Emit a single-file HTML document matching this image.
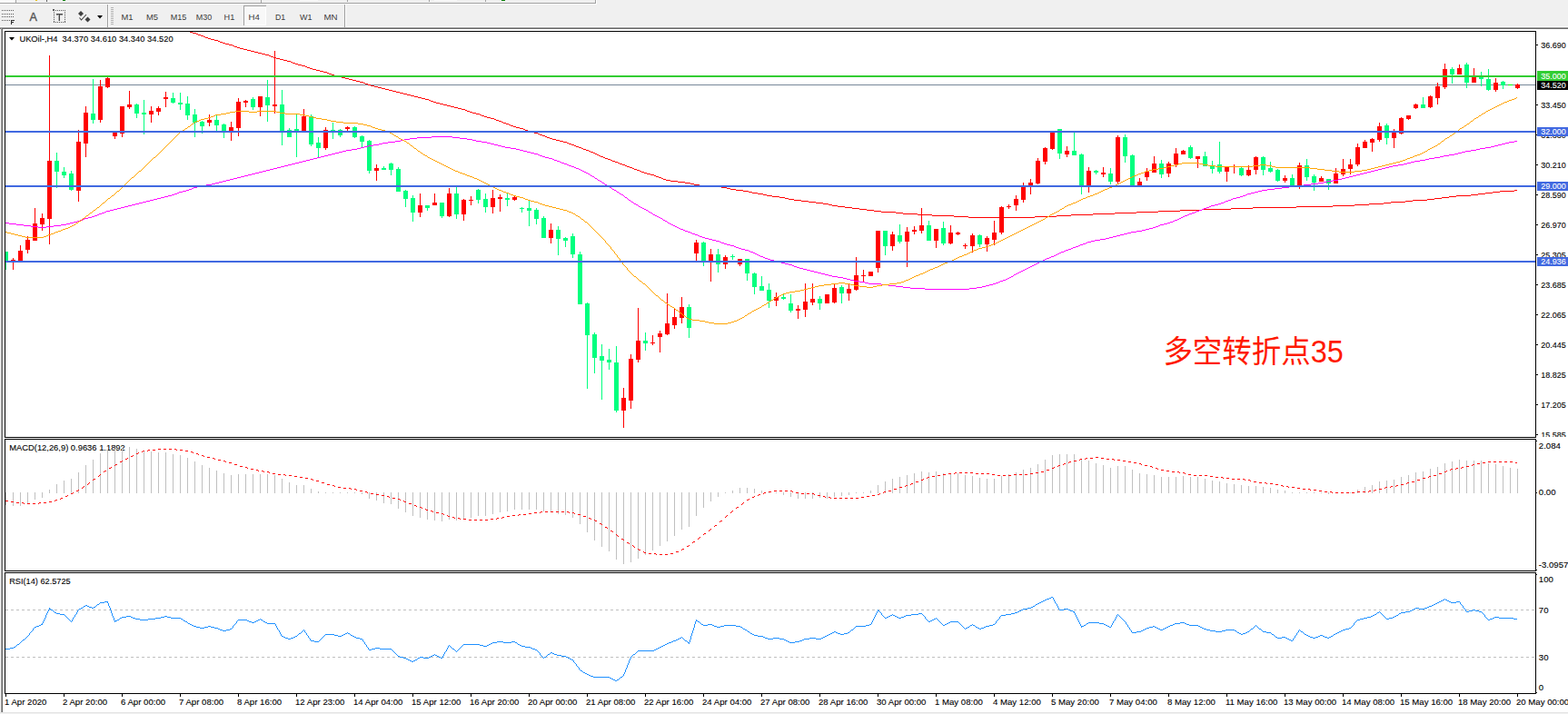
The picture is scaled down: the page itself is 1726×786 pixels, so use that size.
<!DOCTYPE html><html><head><meta charset="utf-8"><title>UKOil H4</title>
<style>html,body{margin:0;padding:0;background:#f0f0f0;overflow:hidden}svg{display:block}text{font-family:"Liberation Sans",sans-serif;font-size:9.6px;fill:#000;stroke:#000;stroke-width:0.1px}.tb{font-size:9.6px;fill:#3c3c3c;stroke:none}.w{fill:#fff;stroke:#fff}</style></head><body>
<svg width="1726" height="786" viewBox="0 0 1726 786">
<rect x="0" y="0" width="1726" height="786" fill="#f0f0f0"/>
<g shape-rendering="crispEdges">
<rect x="0" y="0" width="18" height="3" fill="#fafafa"/>
<rect x="0" y="3" width="656" height="1" fill="#a0a0a0"/>
<rect x="655" y="0" width="1" height="4" fill="#a0a0a0"/>
<rect x="656" y="0" width="1" height="5" fill="#ffffff"/>
<rect x="0" y="4" width="656" height="1" fill="#ffffff"/>
<rect x="39" y="0" width="2" height="1" fill="#e8c000"/>
<rect x="51" y="0" width="1" height="2" fill="#606060"/>
<rect x="69" y="0" width="3" height="1" fill="#008000"/>
<rect x="17" y="0" width="1" height="3" fill="#a0a0a0"/>
<rect x="0" y="29" width="1726" height="1" fill="#fbfbfb"/>
<rect x="0" y="30" width="1726" height="1" fill="#a0a0a0"/>
<rect x="0" y="31" width="1726" height="1" fill="#696969"/>
<rect x="0" y="32" width="1726" height="754" fill="#ffffff"/>
<rect x="0" y="32" width="1" height="754" fill="#f4f4f4"/>
<rect x="1" y="31" width="1" height="754" fill="#a0a0a0"/>
<rect x="2" y="31" width="1" height="753" fill="#696969"/>
<rect x="0" y="784" width="1726" height="1" fill="#e3e3e3"/>
<rect x="3" y="784" width="1726" height="1" fill="#e3e3e3"/>
<rect x="0" y="785" width="1726" height="1" fill="#f0f0f0"/>
<rect x="118" y="5" width="1" height="25" fill="#a0a0a0"/>
<rect x="119" y="5" width="1" height="25" fill="#ffffff"/>
<rect x="379" y="5" width="1" height="25" fill="#a0a0a0"/>
<rect x="380" y="5" width="1" height="25" fill="#ffffff"/>
<rect x="122" y="8" width="3" height="1" fill="#b4b4b4"/>
<rect x="122" y="10" width="3" height="1" fill="#b4b4b4"/>
<rect x="122" y="12" width="3" height="1" fill="#b4b4b4"/>
<rect x="122" y="14" width="3" height="1" fill="#b4b4b4"/>
<rect x="122" y="16" width="3" height="1" fill="#b4b4b4"/>
<rect x="122" y="18" width="3" height="1" fill="#b4b4b4"/>
<rect x="122" y="20" width="3" height="1" fill="#b4b4b4"/>
<rect x="122" y="22" width="3" height="1" fill="#b4b4b4"/>
<rect x="122" y="24" width="3" height="1" fill="#b4b4b4"/>
<rect x="122" y="26" width="3" height="1" fill="#b4b4b4"/>
<rect x="268" y="6" width="25" height="22" fill="#f8f8f8"/>
<rect x="268" y="6" width="25" height="22" fill="#f8f8f8"/>
<rect x="268" y="6" width="25" height="1" fill="#a0a0a0"/>
<rect x="268" y="6" width="1" height="22" fill="#a0a0a0"/>
<rect x="292" y="7" width="1" height="21" fill="#ffffff"/>
<rect x="269" y="27" width="24" height="1" fill="#ffffff"/>
<rect x="2" y="11" width="1" height="1" fill="#5a5a5a"/>
<rect x="4" y="11" width="1" height="1" fill="#5a5a5a"/>
<rect x="6" y="11" width="1" height="1" fill="#5a5a5a"/>
<rect x="8" y="11" width="1" height="1" fill="#5a5a5a"/>
<rect x="10" y="11" width="1" height="1" fill="#5a5a5a"/>
<rect x="12" y="11" width="1" height="1" fill="#5a5a5a"/>
<rect x="14" y="11" width="1" height="1" fill="#5a5a5a"/>
<rect x="2" y="15" width="1" height="1" fill="#5a5a5a"/>
<rect x="4" y="15" width="1" height="1" fill="#5a5a5a"/>
<rect x="6" y="15" width="1" height="1" fill="#5a5a5a"/>
<rect x="8" y="15" width="1" height="1" fill="#5a5a5a"/>
<rect x="10" y="15" width="1" height="1" fill="#5a5a5a"/>
<rect x="12" y="15" width="1" height="1" fill="#5a5a5a"/>
<rect x="14" y="15" width="1" height="1" fill="#5a5a5a"/>
<rect x="2" y="18" width="1" height="1" fill="#5a5a5a"/>
<rect x="4" y="18" width="1" height="1" fill="#5a5a5a"/>
<rect x="6" y="18" width="1" height="1" fill="#5a5a5a"/>
<rect x="8" y="18" width="1" height="1" fill="#5a5a5a"/>
<rect x="10" y="18" width="1" height="1" fill="#5a5a5a"/>
<rect x="12" y="18" width="1" height="1" fill="#5a5a5a"/>
<rect x="14" y="18" width="1" height="1" fill="#5a5a5a"/>
<rect x="2" y="22" width="1" height="1" fill="#5a5a5a"/>
<rect x="4" y="22" width="1" height="1" fill="#5a5a5a"/>
<rect x="6" y="22" width="1" height="1" fill="#5a5a5a"/>
<rect x="8" y="22" width="1" height="1" fill="#5a5a5a"/>
<rect x="10" y="22" width="1" height="1" fill="#5a5a5a"/>
<rect x="12" y="22" width="1" height="5" fill="#303030"/>
<rect x="12" y="22" width="4" height="1" fill="#303030"/>
<rect x="12" y="24" width="3" height="1" fill="#303030"/>
<rect x="59" y="11" width="1" height="1" fill="#5a5a5a"/>
<rect x="59" y="24" width="1" height="1" fill="#5a5a5a"/>
<rect x="61" y="11" width="1" height="1" fill="#5a5a5a"/>
<rect x="61" y="24" width="1" height="1" fill="#5a5a5a"/>
<rect x="63" y="11" width="1" height="1" fill="#5a5a5a"/>
<rect x="63" y="24" width="1" height="1" fill="#5a5a5a"/>
<rect x="65" y="11" width="1" height="1" fill="#5a5a5a"/>
<rect x="65" y="24" width="1" height="1" fill="#5a5a5a"/>
<rect x="67" y="11" width="1" height="1" fill="#5a5a5a"/>
<rect x="67" y="24" width="1" height="1" fill="#5a5a5a"/>
<rect x="69" y="11" width="1" height="1" fill="#5a5a5a"/>
<rect x="69" y="24" width="1" height="1" fill="#5a5a5a"/>
<rect x="71" y="11" width="1" height="1" fill="#5a5a5a"/>
<rect x="71" y="24" width="1" height="1" fill="#5a5a5a"/>
<rect x="59" y="11" width="1" height="1" fill="#5a5a5a"/>
<rect x="71" y="11" width="1" height="1" fill="#5a5a5a"/>
<rect x="59" y="13" width="1" height="1" fill="#5a5a5a"/>
<rect x="71" y="13" width="1" height="1" fill="#5a5a5a"/>
<rect x="59" y="15" width="1" height="1" fill="#5a5a5a"/>
<rect x="71" y="15" width="1" height="1" fill="#5a5a5a"/>
<rect x="59" y="17" width="1" height="1" fill="#5a5a5a"/>
<rect x="71" y="17" width="1" height="1" fill="#5a5a5a"/>
<rect x="59" y="19" width="1" height="1" fill="#5a5a5a"/>
<rect x="71" y="19" width="1" height="1" fill="#5a5a5a"/>
<rect x="59" y="21" width="1" height="1" fill="#5a5a5a"/>
<rect x="71" y="21" width="1" height="1" fill="#5a5a5a"/>
<rect x="59" y="23" width="1" height="1" fill="#5a5a5a"/>
<rect x="71" y="23" width="1" height="1" fill="#5a5a5a"/>
<rect x="58" y="10" width="2" height="2" fill="#5a5a5a"/>
<rect x="62" y="15" width="7" height="1" fill="#4a4a4a"/>
<rect x="62" y="16" width="7" height="1" fill="#9a9a9a"/>
<rect x="65" y="15" width="1" height="8" fill="#4a4a4a"/>
<rect x="64" y="16" width="1" height="7" fill="#b0b0b0"/>
<rect x="287" y="0" width="1" height="3" fill="#a0a0a0"/>
<rect x="330" y="0" width="20" height="1" fill="#fafafa"/>
<rect x="382" y="0" width="1" height="2" fill="#a0a0a0"/>
<rect x="472" y="0" width="1" height="2" fill="#a0a0a0"/>
<rect x="534" y="0" width="1" height="2" fill="#a0a0a0"/>
<rect x="478" y="0" width="25" height="1" fill="#fafafa"/>
<rect x="552" y="0" width="4" height="1" fill="#008000"/>
</g>
<text x="32.6" y="23" style="font-size:12.5px;fill:#555;stroke:#555;stroke-width:0.35">A</text>
<g fill="#404040"><path d="M89 12l3 3-3 3-3-3z"/><path d="M96.500 18.500l3 3-3 3-3-3z"/><path d="M87.500 19.500l2 2.500 5.500-6" fill="none" stroke="#404040" stroke-width="1.1"/><path d="M107 17h6l-3 3.500z" fill="#000"/></g>
<text class="tb" x="133.4" y="22" textLength="13.0" lengthAdjust="spacingAndGlyphs">M1</text>
<text class="tb" x="161" y="22" textLength="13.0" lengthAdjust="spacingAndGlyphs">M5</text>
<text class="tb" x="187.7" y="22" textLength="17.6" lengthAdjust="spacingAndGlyphs">M15</text>
<text class="tb" x="215.8" y="22" textLength="17.5" lengthAdjust="spacingAndGlyphs">M30</text>
<text class="tb" x="246.6" y="22" textLength="11.7" lengthAdjust="spacingAndGlyphs">H1</text>
<text class="tb" x="273.6" y="22" textLength="12.3" lengthAdjust="spacingAndGlyphs">H4</text>
<text class="tb" x="302.9" y="22" textLength="11.2" lengthAdjust="spacingAndGlyphs">D1</text>
<text class="tb" x="329.9" y="22" textLength="13.5" lengthAdjust="spacingAndGlyphs">W1</text>
<text class="tb" x="356.4" y="22" textLength="15.1" lengthAdjust="spacingAndGlyphs">MN</text>
<g shape-rendering="crispEdges">
<rect x="5" y="34" width="1686" height="1" fill="#000"/>
<rect x="5" y="481" width="1686" height="1" fill="#000"/>
<rect x="5" y="34" width="1" height="448" fill="#000"/>
<rect x="1690" y="34" width="1" height="448" fill="#000"/>
<rect x="5" y="483" width="1686" height="1" fill="#000"/>
<rect x="5" y="628" width="1686" height="1" fill="#000"/>
<rect x="5" y="483" width="1" height="146" fill="#000"/>
<rect x="1690" y="483" width="1" height="146" fill="#000"/>
<rect x="5" y="630" width="1686" height="1" fill="#000"/>
<rect x="5" y="763" width="1686" height="1" fill="#000"/>
<rect x="5" y="630" width="1" height="134" fill="#000"/>
<rect x="1690" y="630" width="1" height="134" fill="#000"/>
</g>
<defs><clipPath id="cm"><rect x="6" y="35" width="1684" height="446"/></clipPath></defs>
<g clip-path="url(#cm)" shape-rendering="crispEdges">
<rect x="6" y="93" width="1684" height="1" fill="#778899"/>
<rect x="6" y="277" width="1" height="20" fill="#00ff7f"/>
<rect x="4" y="277" width="5" height="12" fill="#00ff7f"/>
<rect x="14" y="284" width="1" height="13" fill="#ff0000"/>
<rect x="12" y="286" width="5" height="3" fill="#ff0000"/>
<rect x="22" y="270" width="1" height="18" fill="#ff0000"/>
<rect x="20" y="276" width="5" height="12" fill="#ff0000"/>
<rect x="30" y="260" width="1" height="19" fill="#ff0000"/>
<rect x="28" y="264" width="5" height="11" fill="#ff0000"/>
<rect x="38" y="229" width="1" height="36" fill="#ff0000"/>
<rect x="36" y="246" width="5" height="19" fill="#ff0000"/>
<rect x="46" y="235" width="1" height="19" fill="#ff0000"/>
<rect x="44" y="240" width="5" height="7" fill="#ff0000"/>
<rect x="54" y="61" width="1" height="208" fill="#ff0000"/>
<rect x="52" y="177" width="5" height="64" fill="#ff0000"/>
<rect x="62" y="168" width="1" height="39" fill="#00ff7f"/>
<rect x="60" y="177" width="5" height="12" fill="#00ff7f"/>
<rect x="70" y="184" width="1" height="12" fill="#00ff7f"/>
<rect x="68" y="189" width="5" height="4" fill="#00ff7f"/>
<rect x="78" y="188" width="1" height="22" fill="#00ff7f"/>
<rect x="76" y="191" width="5" height="18" fill="#00ff7f"/>
<rect x="86" y="143" width="1" height="79" fill="#ff0000"/>
<rect x="84" y="156" width="5" height="54" fill="#ff0000"/>
<rect x="94" y="117" width="1" height="56" fill="#ff0000"/>
<rect x="92" y="124" width="5" height="34" fill="#ff0000"/>
<rect x="102" y="87" width="1" height="49" fill="#00ff7f"/>
<rect x="100" y="125" width="5" height="7" fill="#00ff7f"/>
<rect x="110" y="88" width="1" height="47" fill="#ff0000"/>
<rect x="108" y="95" width="5" height="37" fill="#ff0000"/>
<rect x="118" y="85" width="1" height="12" fill="#ff0000"/>
<rect x="116" y="86" width="5" height="10" fill="#ff0000"/>
<rect x="126" y="146" width="1" height="7" fill="#ff0000"/>
<rect x="124" y="146" width="5" height="4" fill="#ff0000"/>
<rect x="134" y="117" width="1" height="34" fill="#ff0000"/>
<rect x="132" y="117" width="5" height="30" fill="#ff0000"/>
<rect x="142" y="100" width="1" height="20" fill="#ff0000"/>
<rect x="140" y="115" width="5" height="3" fill="#ff0000"/>
<rect x="150" y="114" width="1" height="16" fill="#00ff7f"/>
<rect x="148" y="115" width="5" height="10" fill="#00ff7f"/>
<rect x="158" y="110" width="1" height="38" fill="#00ff7f"/>
<rect x="156" y="124" width="5" height="2" fill="#00ff7f"/>
<rect x="166" y="117" width="1" height="18" fill="#ff0000"/>
<rect x="164" y="122" width="5" height="4" fill="#ff0000"/>
<rect x="174" y="117" width="1" height="10" fill="#ff0000"/>
<rect x="172" y="119" width="5" height="4" fill="#ff0000"/>
<rect x="182" y="101" width="1" height="17" fill="#ff0000"/>
<rect x="180" y="107" width="5" height="2" fill="#ff0000"/>
<rect x="190" y="102" width="1" height="12" fill="#00ff7f"/>
<rect x="188" y="108" width="5" height="5" fill="#00ff7f"/>
<rect x="198" y="102" width="1" height="19" fill="#00ff7f"/>
<rect x="196" y="113" width="5" height="2" fill="#00ff7f"/>
<rect x="206" y="106" width="1" height="26" fill="#00ff7f"/>
<rect x="204" y="114" width="5" height="13" fill="#00ff7f"/>
<rect x="214" y="120" width="1" height="31" fill="#00ff7f"/>
<rect x="212" y="126" width="5" height="9" fill="#00ff7f"/>
<rect x="222" y="133" width="1" height="14" fill="#00ff7f"/>
<rect x="220" y="134" width="5" height="5" fill="#00ff7f"/>
<rect x="230" y="126" width="1" height="13" fill="#ff0000"/>
<rect x="228" y="132" width="5" height="3" fill="#ff0000"/>
<rect x="238" y="126" width="1" height="19" fill="#00ff7f"/>
<rect x="236" y="132" width="5" height="6" fill="#00ff7f"/>
<rect x="246" y="136" width="1" height="16" fill="#00ff7f"/>
<rect x="244" y="137" width="5" height="8" fill="#00ff7f"/>
<rect x="254" y="134" width="1" height="21" fill="#ff0000"/>
<rect x="252" y="140" width="5" height="5" fill="#ff0000"/>
<rect x="262" y="108" width="1" height="42" fill="#ff0000"/>
<rect x="260" y="112" width="5" height="29" fill="#ff0000"/>
<rect x="270" y="110" width="1" height="8" fill="#ff0000"/>
<rect x="268" y="111" width="5" height="2" fill="#ff0000"/>
<rect x="278" y="107" width="1" height="14" fill="#00ff7f"/>
<rect x="276" y="109" width="5" height="9" fill="#00ff7f"/>
<rect x="286" y="106" width="1" height="22" fill="#ff0000"/>
<rect x="284" y="106" width="5" height="12" fill="#ff0000"/>
<rect x="294" y="88" width="1" height="46" fill="#00ff7f"/>
<rect x="292" y="107" width="5" height="9" fill="#00ff7f"/>
<rect x="302" y="56" width="1" height="69" fill="#ff0000"/>
<rect x="300" y="115" width="5" height="2" fill="#ff0000"/>
<rect x="310" y="99" width="1" height="61" fill="#00ff7f"/>
<rect x="308" y="115" width="5" height="30" fill="#00ff7f"/>
<rect x="318" y="141" width="1" height="10" fill="#00ff7f"/>
<rect x="316" y="143" width="5" height="8" fill="#00ff7f"/>
<rect x="326" y="125" width="1" height="48" fill="#00ff7f"/>
<rect x="324" y="142" width="5" height="3" fill="#00ff7f"/>
<rect x="334" y="120" width="1" height="25" fill="#ff0000"/>
<rect x="332" y="128" width="5" height="17" fill="#ff0000"/>
<rect x="342" y="126" width="1" height="35" fill="#00ff7f"/>
<rect x="340" y="128" width="5" height="31" fill="#00ff7f"/>
<rect x="350" y="151" width="1" height="22" fill="#00ff7f"/>
<rect x="348" y="157" width="5" height="6" fill="#00ff7f"/>
<rect x="358" y="140" width="1" height="25" fill="#ff0000"/>
<rect x="356" y="143" width="5" height="20" fill="#ff0000"/>
<rect x="366" y="135" width="1" height="18" fill="#00ff7f"/>
<rect x="364" y="143" width="5" height="3" fill="#00ff7f"/>
<rect x="374" y="142" width="1" height="9" fill="#00ff7f"/>
<rect x="372" y="143" width="5" height="6" fill="#00ff7f"/>
<rect x="382" y="139" width="1" height="5" fill="#ff0000"/>
<rect x="380" y="140" width="5" height="2" fill="#ff0000"/>
<rect x="390" y="139" width="1" height="13" fill="#00ff7f"/>
<rect x="388" y="140" width="5" height="11" fill="#00ff7f"/>
<rect x="398" y="149" width="1" height="13" fill="#00ff7f"/>
<rect x="396" y="150" width="5" height="6" fill="#00ff7f"/>
<rect x="406" y="154" width="1" height="37" fill="#00ff7f"/>
<rect x="404" y="155" width="5" height="33" fill="#00ff7f"/>
<rect x="414" y="181" width="1" height="18" fill="#ff0000"/>
<rect x="412" y="185" width="5" height="3" fill="#ff0000"/>
<rect x="422" y="183" width="1" height="4" fill="#00ff7f"/>
<rect x="420" y="185" width="5" height="2" fill="#00ff7f"/>
<rect x="430" y="179" width="1" height="14" fill="#00ff7f"/>
<rect x="428" y="180" width="5" height="7" fill="#00ff7f"/>
<rect x="438" y="184" width="1" height="27" fill="#00ff7f"/>
<rect x="436" y="186" width="5" height="25" fill="#00ff7f"/>
<rect x="446" y="209" width="1" height="19" fill="#00ff7f"/>
<rect x="444" y="210" width="5" height="9" fill="#00ff7f"/>
<rect x="454" y="215" width="1" height="29" fill="#00ff7f"/>
<rect x="452" y="218" width="5" height="16" fill="#00ff7f"/>
<rect x="462" y="213" width="1" height="26" fill="#ff0000"/>
<rect x="460" y="226" width="5" height="8" fill="#ff0000"/>
<rect x="470" y="226" width="1" height="6" fill="#00ff7f"/>
<rect x="468" y="226" width="5" height="3" fill="#00ff7f"/>
<rect x="478" y="213" width="1" height="13" fill="#ff0000"/>
<rect x="476" y="223" width="5" height="3" fill="#ff0000"/>
<rect x="486" y="223" width="1" height="17" fill="#00ff7f"/>
<rect x="484" y="223" width="5" height="15" fill="#00ff7f"/>
<rect x="494" y="207" width="1" height="32" fill="#ff0000"/>
<rect x="492" y="213" width="5" height="25" fill="#ff0000"/>
<rect x="502" y="206" width="1" height="35" fill="#00ff7f"/>
<rect x="500" y="213" width="5" height="23" fill="#00ff7f"/>
<rect x="510" y="219" width="1" height="24" fill="#ff0000"/>
<rect x="508" y="220" width="5" height="16" fill="#ff0000"/>
<rect x="518" y="216" width="1" height="10" fill="#ff0000"/>
<rect x="516" y="220" width="5" height="1" fill="#ff0000"/>
<rect x="526" y="208" width="1" height="16" fill="#00ff7f"/>
<rect x="524" y="209" width="5" height="11" fill="#00ff7f"/>
<rect x="534" y="213" width="1" height="21" fill="#00ff7f"/>
<rect x="532" y="219" width="5" height="9" fill="#00ff7f"/>
<rect x="542" y="209" width="1" height="26" fill="#ff0000"/>
<rect x="540" y="218" width="5" height="10" fill="#ff0000"/>
<rect x="550" y="214" width="1" height="19" fill="#ff0000"/>
<rect x="548" y="217" width="5" height="2" fill="#ff0000"/>
<rect x="558" y="213" width="1" height="14" fill="#00ff7f"/>
<rect x="556" y="218" width="5" height="2" fill="#00ff7f"/>
<rect x="566" y="216" width="1" height="5" fill="#ff0000"/>
<rect x="564" y="217" width="5" height="3" fill="#ff0000"/>
<rect x="574" y="228" width="1" height="6" fill="#00ff7f"/>
<rect x="572" y="229" width="5" height="1" fill="#00ff7f"/>
<rect x="582" y="220" width="1" height="29" fill="#00ff7f"/>
<rect x="580" y="229" width="5" height="3" fill="#00ff7f"/>
<rect x="590" y="229" width="1" height="18" fill="#00ff7f"/>
<rect x="588" y="231" width="5" height="10" fill="#00ff7f"/>
<rect x="598" y="238" width="1" height="24" fill="#00ff7f"/>
<rect x="596" y="240" width="5" height="22" fill="#00ff7f"/>
<rect x="606" y="246" width="1" height="22" fill="#ff0000"/>
<rect x="604" y="253" width="5" height="9" fill="#ff0000"/>
<rect x="614" y="249" width="1" height="32" fill="#00ff7f"/>
<rect x="612" y="253" width="5" height="10" fill="#00ff7f"/>
<rect x="622" y="261" width="1" height="11" fill="#00ff7f"/>
<rect x="620" y="262" width="5" height="3" fill="#00ff7f"/>
<rect x="630" y="257" width="1" height="27" fill="#00ff7f"/>
<rect x="628" y="260" width="5" height="20" fill="#00ff7f"/>
<rect x="638" y="277" width="1" height="58" fill="#00ff7f"/>
<rect x="636" y="280" width="5" height="55" fill="#00ff7f"/>
<rect x="646" y="333" width="1" height="95" fill="#00ff7f"/>
<rect x="644" y="334" width="5" height="35" fill="#00ff7f"/>
<rect x="654" y="366" width="1" height="45" fill="#00ff7f"/>
<rect x="652" y="368" width="5" height="26" fill="#00ff7f"/>
<rect x="662" y="379" width="1" height="61" fill="#00ff7f"/>
<rect x="660" y="392" width="5" height="5" fill="#00ff7f"/>
<rect x="670" y="384" width="1" height="23" fill="#00ff7f"/>
<rect x="668" y="396" width="5" height="3" fill="#00ff7f"/>
<rect x="678" y="381" width="1" height="73" fill="#00ff7f"/>
<rect x="676" y="399" width="5" height="53" fill="#00ff7f"/>
<rect x="686" y="427" width="1" height="44" fill="#ff0000"/>
<rect x="684" y="438" width="5" height="14" fill="#ff0000"/>
<rect x="694" y="390" width="1" height="60" fill="#ff0000"/>
<rect x="692" y="395" width="5" height="46" fill="#ff0000"/>
<rect x="702" y="339" width="1" height="60" fill="#ff0000"/>
<rect x="700" y="375" width="5" height="21" fill="#ff0000"/>
<rect x="710" y="366" width="1" height="20" fill="#00ff7f"/>
<rect x="708" y="375" width="5" height="3" fill="#00ff7f"/>
<rect x="718" y="369" width="1" height="11" fill="#ff0000"/>
<rect x="716" y="377" width="5" height="1" fill="#ff0000"/>
<rect x="726" y="364" width="1" height="24" fill="#ff0000"/>
<rect x="724" y="367" width="5" height="4" fill="#ff0000"/>
<rect x="734" y="323" width="1" height="46" fill="#ff0000"/>
<rect x="732" y="356" width="5" height="12" fill="#ff0000"/>
<rect x="742" y="339" width="1" height="23" fill="#ff0000"/>
<rect x="740" y="349" width="5" height="9" fill="#ff0000"/>
<rect x="750" y="327" width="1" height="29" fill="#ff0000"/>
<rect x="748" y="338" width="5" height="12" fill="#ff0000"/>
<rect x="758" y="335" width="1" height="37" fill="#00ff7f"/>
<rect x="756" y="338" width="5" height="23" fill="#00ff7f"/>
<rect x="766" y="264" width="1" height="23" fill="#ff0000"/>
<rect x="764" y="267" width="5" height="12" fill="#ff0000"/>
<rect x="774" y="266" width="1" height="27" fill="#00ff7f"/>
<rect x="772" y="267" width="5" height="22" fill="#00ff7f"/>
<rect x="782" y="274" width="1" height="36" fill="#ff0000"/>
<rect x="780" y="280" width="5" height="9" fill="#ff0000"/>
<rect x="790" y="274" width="1" height="26" fill="#00ff7f"/>
<rect x="788" y="280" width="5" height="11" fill="#00ff7f"/>
<rect x="798" y="281" width="1" height="15" fill="#ff0000"/>
<rect x="796" y="283" width="5" height="8" fill="#ff0000"/>
<rect x="806" y="280" width="1" height="6" fill="#00ff7f"/>
<rect x="804" y="282" width="5" height="1" fill="#00ff7f"/>
<rect x="814" y="285" width="1" height="8" fill="#ff0000"/>
<rect x="812" y="285" width="5" height="6" fill="#ff0000"/>
<rect x="822" y="285" width="1" height="24" fill="#00ff7f"/>
<rect x="820" y="285" width="5" height="16" fill="#00ff7f"/>
<rect x="830" y="300" width="1" height="24" fill="#00ff7f"/>
<rect x="828" y="301" width="5" height="15" fill="#00ff7f"/>
<rect x="838" y="304" width="1" height="16" fill="#00ff7f"/>
<rect x="836" y="315" width="5" height="5" fill="#00ff7f"/>
<rect x="846" y="312" width="1" height="27" fill="#00ff7f"/>
<rect x="844" y="319" width="5" height="12" fill="#00ff7f"/>
<rect x="854" y="322" width="1" height="15" fill="#ff0000"/>
<rect x="852" y="327" width="5" height="4" fill="#ff0000"/>
<rect x="862" y="324" width="1" height="6" fill="#00ff7f"/>
<rect x="860" y="327" width="5" height="2" fill="#00ff7f"/>
<rect x="870" y="324" width="1" height="20" fill="#00ff7f"/>
<rect x="868" y="334" width="5" height="8" fill="#00ff7f"/>
<rect x="878" y="336" width="1" height="15" fill="#ff0000"/>
<rect x="876" y="340" width="5" height="2" fill="#ff0000"/>
<rect x="886" y="312" width="1" height="37" fill="#ff0000"/>
<rect x="884" y="332" width="5" height="9" fill="#ff0000"/>
<rect x="894" y="312" width="1" height="24" fill="#ff0000"/>
<rect x="892" y="329" width="5" height="4" fill="#ff0000"/>
<rect x="902" y="326" width="1" height="15" fill="#00ff7f"/>
<rect x="900" y="329" width="5" height="5" fill="#00ff7f"/>
<rect x="910" y="324" width="1" height="10" fill="#ff0000"/>
<rect x="908" y="324" width="5" height="10" fill="#ff0000"/>
<rect x="918" y="312" width="1" height="22" fill="#ff0000"/>
<rect x="916" y="317" width="5" height="16" fill="#ff0000"/>
<rect x="926" y="314" width="1" height="20" fill="#00ff7f"/>
<rect x="924" y="316" width="5" height="7" fill="#00ff7f"/>
<rect x="934" y="313" width="1" height="18" fill="#ff0000"/>
<rect x="932" y="318" width="5" height="5" fill="#ff0000"/>
<rect x="942" y="283" width="1" height="37" fill="#ff0000"/>
<rect x="940" y="303" width="5" height="16" fill="#ff0000"/>
<rect x="950" y="297" width="1" height="13" fill="#ff0000"/>
<rect x="948" y="303" width="5" height="1" fill="#ff0000"/>
<rect x="958" y="299" width="1" height="5" fill="#ff0000"/>
<rect x="956" y="299" width="5" height="5" fill="#ff0000"/>
<rect x="966" y="254" width="1" height="46" fill="#ff0000"/>
<rect x="964" y="254" width="5" height="41" fill="#ff0000"/>
<rect x="974" y="254" width="1" height="27" fill="#00ff7f"/>
<rect x="972" y="254" width="5" height="17" fill="#00ff7f"/>
<rect x="982" y="255" width="1" height="21" fill="#ff0000"/>
<rect x="980" y="258" width="5" height="13" fill="#ff0000"/>
<rect x="990" y="247" width="1" height="21" fill="#00ff7f"/>
<rect x="988" y="259" width="5" height="7" fill="#00ff7f"/>
<rect x="998" y="250" width="1" height="44" fill="#ff0000"/>
<rect x="996" y="255" width="5" height="11" fill="#ff0000"/>
<rect x="1006" y="249" width="1" height="9" fill="#ff0000"/>
<rect x="1004" y="253" width="5" height="2" fill="#ff0000"/>
<rect x="1014" y="229" width="1" height="28" fill="#ff0000"/>
<rect x="1012" y="248" width="5" height="6" fill="#ff0000"/>
<rect x="1022" y="243" width="1" height="22" fill="#00ff7f"/>
<rect x="1020" y="248" width="5" height="17" fill="#00ff7f"/>
<rect x="1030" y="252" width="1" height="21" fill="#ff0000"/>
<rect x="1028" y="252" width="5" height="13" fill="#ff0000"/>
<rect x="1038" y="244" width="1" height="26" fill="#00ff7f"/>
<rect x="1036" y="251" width="5" height="17" fill="#00ff7f"/>
<rect x="1046" y="248" width="1" height="21" fill="#ff0000"/>
<rect x="1044" y="256" width="5" height="12" fill="#ff0000"/>
<rect x="1054" y="255" width="1" height="4" fill="#ff0000"/>
<rect x="1052" y="256" width="5" height="2" fill="#ff0000"/>
<rect x="1062" y="268" width="1" height="6" fill="#ff0000"/>
<rect x="1060" y="270" width="5" height="1" fill="#ff0000"/>
<rect x="1070" y="257" width="1" height="21" fill="#ff0000"/>
<rect x="1068" y="259" width="5" height="12" fill="#ff0000"/>
<rect x="1078" y="258" width="1" height="14" fill="#00ff7f"/>
<rect x="1076" y="259" width="5" height="10" fill="#00ff7f"/>
<rect x="1086" y="260" width="1" height="17" fill="#ff0000"/>
<rect x="1084" y="262" width="5" height="7" fill="#ff0000"/>
<rect x="1094" y="243" width="1" height="27" fill="#ff0000"/>
<rect x="1092" y="256" width="5" height="8" fill="#ff0000"/>
<rect x="1102" y="227" width="1" height="31" fill="#ff0000"/>
<rect x="1100" y="228" width="5" height="28" fill="#ff0000"/>
<rect x="1110" y="225" width="1" height="5" fill="#ff0000"/>
<rect x="1108" y="227" width="5" height="1" fill="#ff0000"/>
<rect x="1118" y="215" width="1" height="17" fill="#ff0000"/>
<rect x="1116" y="219" width="5" height="7" fill="#ff0000"/>
<rect x="1126" y="201" width="1" height="22" fill="#ff0000"/>
<rect x="1124" y="205" width="5" height="15" fill="#ff0000"/>
<rect x="1134" y="197" width="1" height="17" fill="#ff0000"/>
<rect x="1132" y="201" width="5" height="4" fill="#ff0000"/>
<rect x="1142" y="174" width="1" height="29" fill="#ff0000"/>
<rect x="1140" y="177" width="5" height="25" fill="#ff0000"/>
<rect x="1150" y="162" width="1" height="19" fill="#ff0000"/>
<rect x="1148" y="163" width="5" height="15" fill="#ff0000"/>
<rect x="1158" y="144" width="1" height="21" fill="#ff0000"/>
<rect x="1156" y="146" width="5" height="18" fill="#ff0000"/>
<rect x="1166" y="142" width="1" height="33" fill="#00ff7f"/>
<rect x="1164" y="142" width="5" height="27" fill="#00ff7f"/>
<rect x="1174" y="161" width="1" height="12" fill="#ff0000"/>
<rect x="1172" y="166" width="5" height="4" fill="#ff0000"/>
<rect x="1182" y="146" width="1" height="25" fill="#00ff7f"/>
<rect x="1180" y="166" width="5" height="5" fill="#00ff7f"/>
<rect x="1190" y="169" width="1" height="45" fill="#00ff7f"/>
<rect x="1188" y="170" width="5" height="35" fill="#00ff7f"/>
<rect x="1198" y="184" width="1" height="28" fill="#ff0000"/>
<rect x="1196" y="188" width="5" height="17" fill="#ff0000"/>
<rect x="1206" y="187" width="1" height="5" fill="#00ff7f"/>
<rect x="1204" y="188" width="5" height="2" fill="#00ff7f"/>
<rect x="1214" y="184" width="1" height="11" fill="#ff0000"/>
<rect x="1212" y="190" width="5" height="2" fill="#ff0000"/>
<rect x="1222" y="185" width="1" height="18" fill="#00ff7f"/>
<rect x="1220" y="191" width="5" height="9" fill="#00ff7f"/>
<rect x="1230" y="149" width="1" height="54" fill="#ff0000"/>
<rect x="1228" y="151" width="5" height="49" fill="#ff0000"/>
<rect x="1238" y="148" width="1" height="31" fill="#00ff7f"/>
<rect x="1236" y="151" width="5" height="21" fill="#00ff7f"/>
<rect x="1246" y="170" width="1" height="35" fill="#00ff7f"/>
<rect x="1244" y="171" width="5" height="34" fill="#00ff7f"/>
<rect x="1254" y="196" width="1" height="9" fill="#ff0000"/>
<rect x="1252" y="200" width="5" height="5" fill="#ff0000"/>
<rect x="1262" y="185" width="1" height="14" fill="#ff0000"/>
<rect x="1260" y="189" width="5" height="6" fill="#ff0000"/>
<rect x="1270" y="172" width="1" height="18" fill="#ff0000"/>
<rect x="1268" y="180" width="5" height="10" fill="#ff0000"/>
<rect x="1278" y="176" width="1" height="20" fill="#00ff7f"/>
<rect x="1276" y="180" width="5" height="12" fill="#00ff7f"/>
<rect x="1286" y="178" width="1" height="17" fill="#ff0000"/>
<rect x="1284" y="180" width="5" height="11" fill="#ff0000"/>
<rect x="1294" y="163" width="1" height="21" fill="#ff0000"/>
<rect x="1292" y="169" width="5" height="12" fill="#ff0000"/>
<rect x="1302" y="165" width="1" height="5" fill="#ff0000"/>
<rect x="1300" y="166" width="5" height="4" fill="#ff0000"/>
<rect x="1310" y="160" width="1" height="15" fill="#00ff7f"/>
<rect x="1308" y="162" width="5" height="12" fill="#00ff7f"/>
<rect x="1318" y="172" width="1" height="13" fill="#ff0000"/>
<rect x="1316" y="172" width="5" height="3" fill="#ff0000"/>
<rect x="1326" y="167" width="1" height="16" fill="#00ff7f"/>
<rect x="1324" y="172" width="5" height="11" fill="#00ff7f"/>
<rect x="1334" y="177" width="1" height="14" fill="#00ff7f"/>
<rect x="1332" y="182" width="5" height="4" fill="#00ff7f"/>
<rect x="1342" y="156" width="1" height="35" fill="#00ff7f"/>
<rect x="1340" y="181" width="5" height="8" fill="#00ff7f"/>
<rect x="1350" y="183" width="1" height="17" fill="#ff0000"/>
<rect x="1348" y="183" width="5" height="6" fill="#ff0000"/>
<rect x="1358" y="181" width="1" height="10" fill="#ff0000"/>
<rect x="1366" y="184" width="1" height="10" fill="#00ff7f"/>
<rect x="1364" y="185" width="5" height="8" fill="#00ff7f"/>
<rect x="1374" y="182" width="1" height="12" fill="#ff0000"/>
<rect x="1372" y="187" width="5" height="6" fill="#ff0000"/>
<rect x="1382" y="172" width="1" height="20" fill="#ff0000"/>
<rect x="1380" y="173" width="5" height="14" fill="#ff0000"/>
<rect x="1390" y="172" width="1" height="21" fill="#00ff7f"/>
<rect x="1388" y="173" width="5" height="14" fill="#00ff7f"/>
<rect x="1398" y="178" width="1" height="12" fill="#00ff7f"/>
<rect x="1396" y="185" width="5" height="4" fill="#00ff7f"/>
<rect x="1406" y="186" width="1" height="14" fill="#00ff7f"/>
<rect x="1404" y="187" width="5" height="12" fill="#00ff7f"/>
<rect x="1414" y="193" width="1" height="8" fill="#ff0000"/>
<rect x="1412" y="196" width="5" height="3" fill="#ff0000"/>
<rect x="1422" y="192" width="1" height="13" fill="#00ff7f"/>
<rect x="1420" y="196" width="5" height="9" fill="#00ff7f"/>
<rect x="1430" y="179" width="1" height="29" fill="#ff0000"/>
<rect x="1428" y="182" width="5" height="23" fill="#ff0000"/>
<rect x="1438" y="175" width="1" height="24" fill="#00ff7f"/>
<rect x="1436" y="182" width="5" height="13" fill="#00ff7f"/>
<rect x="1446" y="192" width="1" height="18" fill="#00ff7f"/>
<rect x="1444" y="194" width="5" height="7" fill="#00ff7f"/>
<rect x="1454" y="194" width="1" height="6" fill="#ff0000"/>
<rect x="1452" y="196" width="5" height="4" fill="#ff0000"/>
<rect x="1462" y="197" width="1" height="12" fill="#00ff7f"/>
<rect x="1460" y="197" width="5" height="5" fill="#00ff7f"/>
<rect x="1470" y="185" width="1" height="17" fill="#ff0000"/>
<rect x="1468" y="191" width="5" height="11" fill="#ff0000"/>
<rect x="1478" y="175" width="1" height="19" fill="#ff0000"/>
<rect x="1476" y="186" width="5" height="6" fill="#ff0000"/>
<rect x="1486" y="175" width="1" height="17" fill="#ff0000"/>
<rect x="1484" y="181" width="5" height="5" fill="#ff0000"/>
<rect x="1494" y="158" width="1" height="25" fill="#ff0000"/>
<rect x="1492" y="162" width="5" height="19" fill="#ff0000"/>
<rect x="1502" y="154" width="1" height="9" fill="#ff0000"/>
<rect x="1500" y="156" width="5" height="7" fill="#ff0000"/>
<rect x="1510" y="152" width="1" height="15" fill="#ff0000"/>
<rect x="1508" y="153" width="5" height="4" fill="#ff0000"/>
<rect x="1518" y="135" width="1" height="21" fill="#ff0000"/>
<rect x="1516" y="139" width="5" height="15" fill="#ff0000"/>
<rect x="1526" y="136" width="1" height="23" fill="#00ff7f"/>
<rect x="1524" y="138" width="5" height="14" fill="#00ff7f"/>
<rect x="1534" y="142" width="1" height="21" fill="#ff0000"/>
<rect x="1532" y="146" width="5" height="6" fill="#ff0000"/>
<rect x="1542" y="129" width="1" height="19" fill="#ff0000"/>
<rect x="1540" y="130" width="5" height="17" fill="#ff0000"/>
<rect x="1550" y="127" width="1" height="5" fill="#ff0000"/>
<rect x="1548" y="127" width="5" height="4" fill="#ff0000"/>
<rect x="1558" y="114" width="1" height="6" fill="#ff0000"/>
<rect x="1556" y="115" width="5" height="4" fill="#ff0000"/>
<rect x="1566" y="107" width="1" height="12" fill="#00ff7f"/>
<rect x="1564" y="115" width="5" height="4" fill="#00ff7f"/>
<rect x="1574" y="105" width="1" height="14" fill="#ff0000"/>
<rect x="1572" y="106" width="5" height="12" fill="#ff0000"/>
<rect x="1582" y="91" width="1" height="24" fill="#ff0000"/>
<rect x="1580" y="95" width="5" height="13" fill="#ff0000"/>
<rect x="1590" y="70" width="1" height="28" fill="#ff0000"/>
<rect x="1588" y="76" width="5" height="20" fill="#ff0000"/>
<rect x="1598" y="74" width="1" height="18" fill="#00ff7f"/>
<rect x="1596" y="76" width="5" height="6" fill="#00ff7f"/>
<rect x="1606" y="71" width="1" height="11" fill="#ff0000"/>
<rect x="1604" y="75" width="5" height="7" fill="#ff0000"/>
<rect x="1614" y="69" width="1" height="28" fill="#00ff7f"/>
<rect x="1612" y="71" width="5" height="20" fill="#00ff7f"/>
<rect x="1622" y="75" width="1" height="16" fill="#ff0000"/>
<rect x="1620" y="85" width="5" height="6" fill="#ff0000"/>
<rect x="1630" y="79" width="1" height="16" fill="#00ff7f"/>
<rect x="1628" y="85" width="5" height="2" fill="#00ff7f"/>
<rect x="1638" y="76" width="1" height="24" fill="#00ff7f"/>
<rect x="1636" y="87" width="5" height="12" fill="#00ff7f"/>
<rect x="1646" y="86" width="1" height="15" fill="#ff0000"/>
<rect x="1644" y="91" width="5" height="8" fill="#ff0000"/>
<rect x="1654" y="89" width="1" height="9" fill="#00ff7f"/>
<rect x="1652" y="90" width="5" height="4" fill="#00ff7f"/>
<rect x="1660" y="93" width="5" height="1" fill="#00ff00"/>
<rect x="1670" y="92" width="1" height="6" fill="#ff0000"/>
<rect x="1668" y="93" width="5" height="4" fill="#ff0000"/>
<path d="M209 35.5h3M212 36.5h4M216 37.5h2M218 38.5h3M221 39.5h3M224 40.5h2M226 41.5h3M229 42.5h3M232 43.5h4M236 44.5h4M240 45.5h2M242 46.5h3M245 47.5h3M248 48.5h4M252 49.5h4M256 50.5h2M258 51.5h3M261 52.5h3M264 53.5h4M268 54.5h4M272 55.5h4M276 56.5h4M280 57.5h4M284 58.5h4M288 59.5h4M292 60.5h4M296 61.5h2M298 62.5h3M301 63.5h3M304 64.5h4M308 65.5h4M312 66.5h4M316 67.5h4M320 68.5h2M322 69.5h3M325 70.5h3M328 71.5h4M332 72.5h4M336 73.5h2M338 74.5h3M341 75.5h3M344 76.5h4M348 77.5h4M352 78.5h4M356 79.5h4M360 80.5h2M362 81.5h3M365 82.5h3M368 83.5h4M372 84.5h4M376 85.5h4M380 86.5h4M384 87.5h4M388 88.5h4M392 89.5h4M396 90.5h4M400 91.5h2M402 92.5h3M405 93.5h3M408 94.5h4M412 95.5h4M416 96.5h4M420 97.5h4M424 98.5h4M428 99.5h4M432 100.5h4M436 101.5h4M440 102.5h4M444 103.5h4M448 104.5h4M452 105.5h4M456 106.5h4M460 107.5h4M464 108.5h4M468 109.5h4M472 110.5h2M474 111.5h3M477 112.5h3M480 113.5h4M484 114.5h4M488 115.5h4M492 116.5h4M496 117.5h4M500 118.5h4M504 119.5h4M508 120.5h4M512 121.5h2M514 122.5h3M517 123.5h3M520 124.5h4M524 125.5h4M528 126.5h2M530 127.5h3M533 128.5h3M536 129.5h4M540 130.5h4M544 131.5h2M546 132.5h3M549 133.5h3M552 134.5h2M554 135.5h3M557 136.5h3M560 137.5h2M562 138.5h3M565 139.5h3M568 140.5h4M572 141.5h4M576 142.5h2M578 143.5h3M581 144.5h3M584 145.5h4M588 146.5h4M592 147.5h2M594 148.5h3M597 149.5h3M600 150.5h2M602 151.5h3M605 152.5h3M608 153.5h4M612 154.5h4M616 155.5h4M620 156.5h4M624 157.5h2M626 158.5h3M629 159.5h3M632 160.5h2M634 161.5h3M637 162.5h3M640 163.5h2M642 164.5h3M645 165.5h3M648 166.5h2M650 167.5h3M653 168.5h2M655 169.5h2M657 170.5h2M659 171.5h2M661 172.5h3M664 173.5h2M666 174.5h3M669 175.5h3M672 176.5h2M674 177.5h3M677 178.5h3M680 179.5h2M682 180.5h3M685 181.5h3M688 182.5h2M690 183.5h3M693 184.5h3M696 185.5h2M698 186.5h3M701 187.5h3M704 188.5h2M706 189.5h3M709 190.5h3M712 191.5h4M716 192.5h4M720 193.5h2M722 194.5h3M725 195.5h3M728 196.5h2M730 197.5h3M733 198.5h5M738 199.5h8M746 200.5h8M754 201.5h6M760 202.5h4M764 203.5h6M770 204.5h16M786 205.5h8M794 206.5h6M800 207.5h4M804 208.5h6M810 209.5h8M1667 209.5h3M818 210.5h6M1651 210.5h16M824 211.5h4M1643 211.5h8M828 212.5h6M1635 212.5h8M834 213.5h6M1627 213.5h8M840 214.5h4M1619 214.5h8M844 215.5h6M1603 215.5h16M850 216.5h8M1595 216.5h8M858 217.5h6M1587 217.5h8M864 218.5h4M1579 218.5h8M868 219.5h6M1571 219.5h8M874 220.5h8M1555 220.5h16M882 221.5h8M1547 221.5h8M890 222.5h8M1531 222.5h16M898 223.5h8M1523 223.5h8M906 224.5h6M1507 224.5h16M912 225.5h4M1491 225.5h16M916 226.5h6M1467 226.5h24M922 227.5h8M1427 227.5h40M930 228.5h8M1379 228.5h48M938 229.5h8M1355 229.5h24M946 230.5h8M1323 230.5h32M954 231.5h8M1299 231.5h24M962 232.5h8M1275 232.5h24M970 233.5h16M1251 233.5h24M986 234.5h8M1227 234.5h24M994 235.5h16M1203 235.5h24M1010 236.5h16M1179 236.5h24M1026 237.5h24M1163 237.5h16M1050 238.5h16M1139 238.5h24M1066 239.5h73" fill="none" stroke="#ff0000" stroke-width="1"/>
<path d="M475 150.5h23M459 151.5h16M498 151.5h8M451 152.5h8M506 152.5h8M445 153.5h6M514 153.5h6M441 154.5h4M520 154.5h4M435 155.5h6M524 155.5h6M1667 155.5h3M427 156.5h8M530 156.5h6M1661 156.5h6M421 157.5h6M536 157.5h4M1657 157.5h4M417 158.5h4M540 158.5h4M1653 158.5h4M411 159.5h6M544 159.5h4M1649 159.5h4M405 160.5h6M548 160.5h4M1645 160.5h4M401 161.5h4M552 161.5h4M1641 161.5h4M397 162.5h4M556 162.5h6M1635 162.5h6M393 163.5h4M562 163.5h6M1629 163.5h6M387 164.5h6M568 164.5h4M1625 164.5h4M381 165.5h6M572 165.5h4M1619 165.5h6M377 166.5h4M576 166.5h4M1613 166.5h6M373 167.5h4M580 167.5h4M1609 167.5h4M369 168.5h4M584 168.5h4M1605 168.5h4M365 169.5h4M588 169.5h4M1601 169.5h4M361 170.5h4M592 170.5h2M1595 170.5h6M357 171.5h4M594 171.5h3M1589 171.5h6M353 172.5h4M597 172.5h3M1585 172.5h4M349 173.5h4M600 173.5h4M1579 173.5h6M345 174.5h4M604 174.5h4M1573 174.5h6M341 175.5h4M608 175.5h2M1569 175.5h4M337 176.5h4M610 176.5h3M1563 176.5h6M333 177.5h4M613 177.5h3M1557 177.5h6M329 178.5h4M616 178.5h2M1553 178.5h4M325 179.5h4M618 179.5h3M1549 179.5h4M321 180.5h4M621 180.5h3M1545 180.5h4M317 181.5h4M624 181.5h2M1539 181.5h6M313 182.5h4M626 182.5h3M1533 182.5h6M309 183.5h4M629 183.5h3M1529 183.5h4M305 184.5h4M632 184.5h2M1525 184.5h4M301 185.5h4M634 185.5h3M1521 185.5h4M297 186.5h4M637 186.5h2M1517 186.5h4M293 187.5h4M639 187.5h2M1513 187.5h4M289 188.5h4M641 188.5h2M1509 188.5h4M285 189.5h4M643 189.5h2M1505 189.5h4M281 190.5h4M645 190.5h2M1501 190.5h4M277 191.5h4M647 191.5h2M1497 191.5h4M273 192.5h4M649 192.5h1M1493 192.5h4M269 193.5h4M650 193.5h2M1489 193.5h4M265 194.5h4M652 194.5h2M1485 194.5h4M261 195.5h4M654 195.5h1M1481 195.5h4M257 196.5h4M655 196.5h2M1477 196.5h4M253 197.5h4M657 197.5h1M1473 197.5h4M249 198.5h4M658 198.5h2M1467 198.5h6M245 199.5h4M660 199.5h2M1461 199.5h6M241 200.5h4M662 200.5h1M1457 200.5h4M237 201.5h4M663 201.5h2M1451 201.5h6M233 202.5h4M665 202.5h1M1443 202.5h8M227 203.5h6M666 203.5h2M1435 203.5h8M221 204.5h6M668 204.5h2M1427 204.5h8M217 205.5h4M670 205.5h1M1419 205.5h8M213 206.5h4M671 206.5h2M1411 206.5h8M211 207.5h2M673 207.5h1M1403 207.5h8M208 208.5h3M674 208.5h2M1395 208.5h8M205 209.5h3M676 209.5h2M1389 209.5h6M201 210.5h4M678 210.5h1M1385 210.5h4M197 211.5h4M679 211.5h2M1381 211.5h4M195 212.5h2M681 212.5h1M1377 212.5h4M192 213.5h3M682 213.5h2M1373 213.5h4M189 214.5h3M684 214.5h2M1371 214.5h2M185 215.5h4M686 215.5h1M1368 215.5h3M181 216.5h4M687 216.5h1M1365 216.5h3M177 217.5h4M688 217.5h2M1361 217.5h4M173 218.5h4M690 218.5h1M1357 218.5h4M169 219.5h4M691 219.5h1M1355 219.5h2M165 220.5h4M692 220.5h2M1352 220.5h3M161 221.5h4M694 221.5h1M1349 221.5h3M157 222.5h4M695 222.5h2M1347 222.5h2M153 223.5h4M697 223.5h1M1344 223.5h3M149 224.5h4M698 224.5h2M1341 224.5h3M145 225.5h4M700 225.5h2M1337 225.5h4M141 226.5h4M702 226.5h1M1333 226.5h4M137 227.5h4M703 227.5h2M1331 227.5h2M133 228.5h4M705 228.5h2M1328 228.5h3M129 229.5h4M707 229.5h2M1325 229.5h3M125 230.5h4M709 230.5h2M1323 230.5h2M121 231.5h4M711 231.5h2M1320 231.5h3M117 232.5h4M713 232.5h1M1317 232.5h3M115 233.5h2M714 233.5h2M1315 233.5h2M112 234.5h3M716 234.5h2M1312 234.5h3M109 235.5h3M718 235.5h1M1309 235.5h3M107 236.5h2M719 236.5h2M1307 236.5h2M104 237.5h3M721 237.5h2M1304 237.5h3M101 238.5h3M723 238.5h2M1302 238.5h2M97 239.5h4M725 239.5h2M1300 239.5h2M93 240.5h4M727 240.5h2M1298 240.5h2M91 241.5h2M729 241.5h1M1296 241.5h2M88 242.5h3M730 242.5h2M1293 242.5h3M85 243.5h3M732 243.5h2M1291 243.5h2M81 244.5h4M734 244.5h1M1288 244.5h3M6 245.5h4M77 245.5h4M735 245.5h2M1285 245.5h3M10 246.5h8M73 246.5h4M737 246.5h2M1281 246.5h4M18 247.5h8M67 247.5h6M739 247.5h2M1277 247.5h4M26 248.5h8M59 248.5h8M741 248.5h2M1275 248.5h2M34 249.5h8M51 249.5h8M743 249.5h2M1272 249.5h3M42 250.5h9M745 250.5h2M1269 250.5h3M747 251.5h2M1265 251.5h4M749 252.5h3M1261 252.5h4M752 253.5h2M1257 253.5h4M754 254.5h3M1251 254.5h6M757 255.5h3M1245 255.5h6M760 256.5h2M1241 256.5h4M762 257.5h3M1237 257.5h4M765 258.5h3M1233 258.5h4M768 259.5h2M1229 259.5h4M770 260.5h3M1225 260.5h4M773 261.5h3M1221 261.5h4M776 262.5h4M1217 262.5h4M780 263.5h4M1211 263.5h6M784 264.5h4M1205 264.5h6M788 265.5h4M1201 265.5h4M792 266.5h2M1197 266.5h4M794 267.5h3M1195 267.5h2M797 268.5h3M1192 268.5h3M800 269.5h4M1189 269.5h3M804 270.5h4M1187 270.5h2M808 271.5h2M1184 271.5h3M810 272.5h3M1181 272.5h3M813 273.5h3M1179 273.5h2M816 274.5h4M1176 274.5h3M820 275.5h4M1173 275.5h3M824 276.5h2M1171 276.5h2M826 277.5h3M1168 277.5h3M829 278.5h2M1166 278.5h2M831 279.5h2M1164 279.5h2M833 280.5h2M1162 280.5h2M835 281.5h2M1160 281.5h2M837 282.5h3M1157 282.5h3M840 283.5h2M1155 283.5h2M842 284.5h3M1152 284.5h3M845 285.5h3M1150 285.5h2M848 286.5h4M1148 286.5h2M852 287.5h4M1146 287.5h2M856 288.5h4M1144 288.5h2M860 289.5h4M1142 289.5h2M864 290.5h4M1140 290.5h2M868 291.5h4M1138 291.5h2M872 292.5h2M1136 292.5h2M874 293.5h3M1134 293.5h2M877 294.5h3M1132 294.5h2M880 295.5h4M1130 295.5h2M884 296.5h4M1128 296.5h2M888 297.5h4M1126 297.5h2M892 298.5h4M1124 298.5h2M896 299.5h4M1122 299.5h2M900 300.5h4M1120 300.5h2M904 301.5h4M1118 301.5h2M908 302.5h4M1116 302.5h2M912 303.5h4M1115 303.5h1M916 304.5h6M1113 304.5h2M922 305.5h6M1111 305.5h2M928 306.5h4M1109 306.5h2M932 307.5h4M1107 307.5h2M936 308.5h4M1104 308.5h3M940 309.5h6M1101 309.5h3M946 310.5h6M1099 310.5h2M952 311.5h4M1096 311.5h3M956 312.5h14M1093 312.5h3M970 313.5h8M1089 313.5h4M978 314.5h8M1085 314.5h4M986 315.5h8M1081 315.5h4M994 316.5h8M1075 316.5h6M1002 317.5h16M1067 317.5h8M1018 318.5h49" fill="none" stroke="#ff00ff" stroke-width="1"/>
<path d="M1669 107.5h1M1667 108.5h2M1664 109.5h3M1661 110.5h3M1659 111.5h2M1656 112.5h3M1654 113.5h2M1652 114.5h2M1650 115.5h2M1648 116.5h2M1646 117.5h2M1644 118.5h2M1642 119.5h2M1640 120.5h2M1638 121.5h2M259 122.5h15M283 122.5h21M1636 122.5h2M253 123.5h6M274 123.5h9M304 123.5h4M1635 123.5h1M249 124.5h4M308 124.5h6M1633 124.5h2M243 125.5h6M314 125.5h16M1631 125.5h2M237 126.5h6M330 126.5h6M1630 126.5h1M235 127.5h2M336 127.5h4M1628 127.5h2M232 128.5h3M340 128.5h4M1627 128.5h1M229 129.5h3M344 129.5h4M1625 129.5h2M225 130.5h4M348 130.5h6M1623 130.5h2M221 131.5h4M354 131.5h6M1622 131.5h1M219 132.5h2M360 132.5h4M1621 132.5h1M216 133.5h3M364 133.5h6M1619 133.5h2M214 134.5h2M370 134.5h8M1618 134.5h1M213 135.5h1M378 135.5h16M1617 135.5h1M211 136.5h2M394 136.5h6M1615 136.5h2M210 137.5h1M400 137.5h4M1614 137.5h1M209 138.5h1M404 138.5h4M1612 138.5h2M207 139.5h2M408 139.5h2M1611 139.5h1M206 140.5h1M410 140.5h3M1609 140.5h2M204 141.5h2M413 141.5h3M1607 141.5h2M203 142.5h1M416 142.5h4M1606 142.5h1M201 143.5h2M420 143.5h4M1605 143.5h1M199 144.5h2M424 144.5h2M1603 144.5h2M198 145.5h1M426 145.5h3M1602 145.5h1M197 146.5h1M429 146.5h2M1601 146.5h1M196 147.5h1M431 147.5h2M1599 147.5h2M195 148.5h1M433 148.5h1M1598 148.5h1M194 149.5h1M434 149.5h2M1596 149.5h2M193 150.5h1M436 150.5h2M1595 150.5h1M192 151.5h1M438 151.5h1M1593 151.5h2M191 152.5h1M439 152.5h2M1591 152.5h2M190 153.5h1M441 153.5h2M1590 153.5h1M189 154.5h1M443 154.5h2M1589 154.5h1M188 155.5h1M445 155.5h2M1587 155.5h2M187 156.5h1M447 156.5h1M1586 156.5h1M186 157.5h1M448 157.5h2M1585 157.5h1M185 158.5h1M450 158.5h1M1583 158.5h2M184 159.5h1M451 159.5h1M1582 159.5h1M183 160.5h1M452 160.5h2M1580 160.5h2M182 161.5h1M454 161.5h1M1578 161.5h2M181 162.5h1M455 162.5h1M1576 162.5h2M180 163.5h1M456 163.5h2M1574 163.5h2M179 164.5h1M458 164.5h1M1572 164.5h2M178 165.5h1M459 165.5h1M1571 165.5h1M177 166.5h1M460 166.5h2M1569 166.5h2M176 167.5h1M462 167.5h1M1567 167.5h2M175 168.5h1M463 168.5h2M1565 168.5h2M174 169.5h1M465 169.5h1M1563 169.5h2M173 170.5h1M466 170.5h2M1560 170.5h3M172 171.5h1M468 171.5h2M1557 171.5h3M171 172.5h1M470 172.5h1M1555 172.5h2M169 173.5h2M471 173.5h2M1552 173.5h3M168 174.5h1M473 174.5h2M1549 174.5h3M167 175.5h1M475 175.5h2M1547 175.5h2M166 176.5h1M477 176.5h2M1544 176.5h3M165 177.5h1M479 177.5h2M1541 177.5h3M164 178.5h1M481 178.5h2M1537 178.5h4M163 179.5h1M483 179.5h2M1301 179.5h19M1533 179.5h4M162 180.5h1M485 180.5h2M1297 180.5h4M1320 180.5h4M1529 180.5h4M161 181.5h1M487 181.5h2M1293 181.5h4M1324 181.5h6M1387 181.5h7M1525 181.5h4M160 182.5h1M489 182.5h2M1289 182.5h4M1330 182.5h8M1379 182.5h8M1394 182.5h6M1521 182.5h4M159 183.5h1M491 183.5h2M1285 183.5h4M1338 183.5h41M1400 183.5h4M1517 183.5h4M158 184.5h1M493 184.5h2M1281 184.5h4M1404 184.5h38M1513 184.5h4M157 185.5h1M495 185.5h2M1275 185.5h6M1442 185.5h8M1509 185.5h4M156 186.5h1M497 186.5h2M1269 186.5h6M1450 186.5h8M1505 186.5h4M155 187.5h1M499 187.5h2M1265 187.5h4M1458 187.5h8M1499 187.5h6M153 188.5h2M501 188.5h3M1261 188.5h4M1466 188.5h8M1491 188.5h8M152 189.5h1M504 189.5h2M1259 189.5h2M1474 189.5h17M151 190.5h1M506 190.5h3M1256 190.5h3M150 191.5h1M509 191.5h3M1253 191.5h3M149 192.5h1M512 192.5h2M1251 192.5h2M148 193.5h1M514 193.5h3M1248 193.5h3M147 194.5h1M517 194.5h3M1246 194.5h2M145 195.5h2M520 195.5h2M1244 195.5h2M144 196.5h1M522 196.5h3M1242 196.5h2M143 197.5h1M525 197.5h2M1240 197.5h2M142 198.5h1M527 198.5h2M1238 198.5h2M141 199.5h1M529 199.5h2M1236 199.5h2M140 200.5h1M531 200.5h2M1234 200.5h2M139 201.5h1M533 201.5h2M1232 201.5h2M138 202.5h1M535 202.5h2M1230 202.5h2M137 203.5h1M537 203.5h2M1228 203.5h2M136 204.5h1M539 204.5h2M1226 204.5h2M135 205.5h1M541 205.5h2M1224 205.5h2M134 206.5h1M543 206.5h2M1221 206.5h3M133 207.5h1M545 207.5h2M1219 207.5h2M132 208.5h1M547 208.5h2M1216 208.5h3M131 209.5h1M549 209.5h3M1214 209.5h2M129 210.5h2M552 210.5h2M1212 210.5h2M128 211.5h1M554 211.5h3M1210 211.5h2M127 212.5h1M557 212.5h3M1208 212.5h2M126 213.5h1M560 213.5h2M1205 213.5h3M125 214.5h1M562 214.5h3M1203 214.5h2M123 215.5h2M565 215.5h3M1200 215.5h3M122 216.5h1M568 216.5h4M1197 216.5h3M121 217.5h1M572 217.5h4M1195 217.5h2M119 218.5h2M576 218.5h2M1192 218.5h3M118 219.5h1M578 219.5h3M1190 219.5h2M117 220.5h1M581 220.5h3M1188 220.5h2M116 221.5h1M584 221.5h4M1186 221.5h2M115 222.5h1M588 222.5h4M1184 222.5h2M113 223.5h2M592 223.5h2M1181 223.5h3M112 224.5h1M594 224.5h3M1179 224.5h2M111 225.5h1M597 225.5h3M1176 225.5h3M110 226.5h1M600 226.5h4M1174 226.5h2M109 227.5h1M604 227.5h4M1172 227.5h2M107 228.5h2M608 228.5h4M1171 228.5h1M106 229.5h1M612 229.5h4M1169 229.5h2M105 230.5h1M616 230.5h4M1167 230.5h2M103 231.5h2M620 231.5h4M1166 231.5h1M102 232.5h1M624 232.5h2M1164 232.5h2M101 233.5h1M626 233.5h3M1162 233.5h2M99 234.5h2M629 234.5h2M1160 234.5h2M98 235.5h1M631 235.5h2M1158 235.5h2M97 236.5h1M633 236.5h1M1156 236.5h2M95 237.5h2M634 237.5h2M1155 237.5h1M94 238.5h1M636 238.5h2M1153 238.5h2M93 239.5h1M638 239.5h1M1151 239.5h2M91 240.5h2M639 240.5h1M1150 240.5h1M90 241.5h1M640 241.5h2M1148 241.5h2M89 242.5h1M642 242.5h1M1146 242.5h2M87 243.5h2M643 243.5h1M1144 243.5h2M86 244.5h1M644 244.5h2M1142 244.5h2M84 245.5h2M646 245.5h1M1140 245.5h2M83 246.5h1M647 246.5h1M1138 246.5h2M81 247.5h2M648 247.5h1M1136 247.5h2M79 248.5h2M649 248.5h1M1134 248.5h2M77 249.5h2M650 249.5h1M1132 249.5h2M75 250.5h2M651 250.5h1M1130 250.5h2M72 251.5h3M652 251.5h1M1128 251.5h2M69 252.5h3M653 252.5h1M1126 252.5h2M67 253.5h2M654 253.5h1M1124 253.5h2M64 254.5h3M655 254.5h1M1122 254.5h2M6 255.5h2M61 255.5h3M656 255.5h1M1120 255.5h2M8 256.5h4M59 256.5h2M657 256.5h1M1118 256.5h2M12 257.5h4M56 257.5h3M658 257.5h1M1116 257.5h2M16 258.5h4M53 258.5h3M659 258.5h1M1114 258.5h2M20 259.5h4M51 259.5h2M660 259.5h1M1112 259.5h2M24 260.5h4M48 260.5h3M661 260.5h1M1110 260.5h2M28 261.5h20M662 261.5h1M1108 261.5h2M663 262.5h1M1106 262.5h2M664 263.5h1M1104 263.5h2M665 264.5h1M1102 264.5h2M666 265.5h1M1100 265.5h2M666 266.5h1M1098 266.5h2M667 267.5h1M1096 267.5h2M668 268.5h1M1093 268.5h3M669 269.5h1M1091 269.5h2M670 270.5h1M1088 270.5h3M671 271.5h1M1085 271.5h3M672 272.5h1M1081 272.5h4M672 273.5h1M1077 273.5h4M673 274.5h1M1075 274.5h2M674 275.5h1M1072 275.5h3M675 276.5h1M1070 276.5h2M676 277.5h1M1068 277.5h2M676 278.5h1M1066 278.5h2M677 279.5h1M1064 279.5h2M678 280.5h1M1061 280.5h3M679 281.5h1M1059 281.5h2M679 282.5h1M1056 282.5h3M680 283.5h1M1054 283.5h2M681 284.5h1M1052 284.5h2M682 285.5h1M1050 285.5h2M682 286.5h1M1048 286.5h2M683 287.5h1M1045 287.5h3M684 288.5h1M1043 288.5h2M685 289.5h1M1040 289.5h3M685 290.5h1M1038 290.5h2M686 291.5h1M1036 291.5h2M687 292.5h1M1034 292.5h2M688 293.5h1M1032 293.5h2M689 294.5h1M1029 294.5h3M690 295.5h1M1027 295.5h2M690 296.5h1M1024 296.5h3M691 297.5h1M1022 297.5h2M692 298.5h1M1020 298.5h2M693 299.5h1M1018 299.5h2M694 300.5h1M1016 300.5h2M695 301.5h1M1013 301.5h3M696 302.5h1M1011 302.5h2M697 303.5h1M1008 303.5h3M698 304.5h2M1006 304.5h2M700 305.5h1M1004 305.5h2M701 306.5h1M1002 306.5h2M702 307.5h1M1000 307.5h2M703 308.5h1M997 308.5h3M704 309.5h2M995 309.5h2M706 310.5h1M992 310.5h3M707 311.5h1M923 311.5h7M987 311.5h5M708 312.5h2M915 312.5h8M930 312.5h6M979 312.5h8M710 313.5h1M907 313.5h8M936 313.5h4M971 313.5h8M711 314.5h1M901 314.5h6M940 314.5h6M965 314.5h6M712 315.5h1M897 315.5h4M946 315.5h8M961 315.5h4M713 316.5h1M893 316.5h4M954 316.5h7M714 317.5h1M889 317.5h4M715 318.5h1M885 318.5h4M716 319.5h1M881 319.5h4M717 320.5h1M875 320.5h6M718 321.5h1M869 321.5h6M719 322.5h1M865 322.5h4M720 323.5h1M862 323.5h3M721 324.5h1M860 324.5h2M722 325.5h2M858 325.5h2M724 326.5h1M856 326.5h2M725 327.5h1M854 327.5h2M726 328.5h1M852 328.5h2M727 329.5h1M851 329.5h1M728 330.5h2M849 330.5h2M730 331.5h1M847 331.5h2M731 332.5h1M846 332.5h1M732 333.5h2M844 333.5h2M734 334.5h1M843 334.5h1M735 335.5h2M841 335.5h2M737 336.5h1M839 336.5h2M738 337.5h2M838 337.5h1M740 338.5h2M836 338.5h2M742 339.5h1M834 339.5h2M743 340.5h1M832 340.5h2M744 341.5h2M830 341.5h2M746 342.5h1M828 342.5h2M747 343.5h1M827 343.5h1M748 344.5h2M825 344.5h2M750 345.5h1M823 345.5h2M751 346.5h1M822 346.5h1M752 347.5h2M820 347.5h2M754 348.5h1M819 348.5h1M755 349.5h1M817 349.5h2M756 350.5h2M815 350.5h2M758 351.5h4M813 351.5h2M762 352.5h8M811 352.5h2M770 353.5h6M808 353.5h3M776 354.5h4M805 354.5h3M780 355.5h6M801 355.5h4M786 356.5h15" fill="none" stroke="#ffa500" stroke-width="1"/>
<rect x="6" y="83" width="1684" height="2" fill="#32cd32"/>
<rect x="6" y="144" width="1684" height="2" fill="#4169e1"/>
<rect x="6" y="204" width="1684" height="2" fill="#4169e1"/>
<rect x="6" y="287" width="1684" height="2" fill="#4169e1"/>
</g>
<path d="M10 41h6l-3 3.500z" fill="#000"/>
<text x="21.4" y="46" textLength="169.2" lengthAdjust="spacingAndGlyphs" style="white-space:pre">UKOil-,H4  34.370 34.610 34.340 34.520</text>
<text x="10.2" y="496" textLength="127.6" lengthAdjust="spacingAndGlyphs">MACD(12,26,9) 0.9636 1.1892</text>
<text x="10.2" y="643" textLength="67.5" lengthAdjust="spacingAndGlyphs">RSI(14) 62.5725</text>
<text transform="translate(1280.400,399) scale(1.015,1.07)" x="0" y="0" textLength="195.5" lengthAdjust="spacingAndGlyphs" style="font-family:'Liberation Sans','Noto Sans CJK SC',sans-serif;font-size:32px;fill:#ff1a00;stroke:none">多空转折点35</text>
<g shape-rendering="crispEdges">
<rect x="6" y="542" width="1" height="14" fill="#c0c0c0"/>
<rect x="14" y="542" width="1" height="15" fill="#c0c0c0"/>
<rect x="22" y="542" width="1" height="15" fill="#c0c0c0"/>
<rect x="30" y="542" width="1" height="13" fill="#c0c0c0"/>
<rect x="38" y="542" width="1" height="8" fill="#c0c0c0"/>
<rect x="46" y="542" width="1" height="6" fill="#c0c0c0"/>
<rect x="54" y="539" width="1" height="4" fill="#c0c0c0"/>
<rect x="62" y="533" width="1" height="10" fill="#c0c0c0"/>
<rect x="70" y="529" width="1" height="14" fill="#c0c0c0"/>
<rect x="78" y="527" width="1" height="16" fill="#c0c0c0"/>
<rect x="86" y="520" width="1" height="23" fill="#c0c0c0"/>
<rect x="94" y="512" width="1" height="31" fill="#c0c0c0"/>
<rect x="102" y="506" width="1" height="37" fill="#c0c0c0"/>
<rect x="110" y="499" width="1" height="44" fill="#c0c0c0"/>
<rect x="118" y="495" width="1" height="48" fill="#c0c0c0"/>
<rect x="126" y="494" width="1" height="49" fill="#c0c0c0"/>
<rect x="134" y="493" width="1" height="50" fill="#c0c0c0"/>
<rect x="142" y="492" width="1" height="51" fill="#c0c0c0"/>
<rect x="150" y="494" width="1" height="49" fill="#c0c0c0"/>
<rect x="158" y="496" width="1" height="47" fill="#c0c0c0"/>
<rect x="166" y="497" width="1" height="46" fill="#c0c0c0"/>
<rect x="174" y="498" width="1" height="45" fill="#c0c0c0"/>
<rect x="182" y="498" width="1" height="45" fill="#c0c0c0"/>
<rect x="190" y="500" width="1" height="43" fill="#c0c0c0"/>
<rect x="198" y="501" width="1" height="42" fill="#c0c0c0"/>
<rect x="206" y="504" width="1" height="39" fill="#c0c0c0"/>
<rect x="214" y="508" width="1" height="35" fill="#c0c0c0"/>
<rect x="222" y="512" width="1" height="31" fill="#c0c0c0"/>
<rect x="230" y="515" width="1" height="28" fill="#c0c0c0"/>
<rect x="238" y="518" width="1" height="25" fill="#c0c0c0"/>
<rect x="246" y="521" width="1" height="22" fill="#c0c0c0"/>
<rect x="254" y="523" width="1" height="20" fill="#c0c0c0"/>
<rect x="262" y="522" width="1" height="21" fill="#c0c0c0"/>
<rect x="270" y="522" width="1" height="21" fill="#c0c0c0"/>
<rect x="278" y="522" width="1" height="21" fill="#c0c0c0"/>
<rect x="286" y="522" width="1" height="21" fill="#c0c0c0"/>
<rect x="294" y="522" width="1" height="21" fill="#c0c0c0"/>
<rect x="302" y="523" width="1" height="20" fill="#c0c0c0"/>
<rect x="310" y="527" width="1" height="16" fill="#c0c0c0"/>
<rect x="318" y="531" width="1" height="12" fill="#c0c0c0"/>
<rect x="326" y="534" width="1" height="9" fill="#c0c0c0"/>
<rect x="334" y="534" width="1" height="9" fill="#c0c0c0"/>
<rect x="342" y="538" width="1" height="5" fill="#c0c0c0"/>
<rect x="350" y="541" width="1" height="2" fill="#c0c0c0"/>
<rect x="358" y="542" width="1" height="1" fill="#c0c0c0"/>
<rect x="366" y="542" width="1" height="1" fill="#c0c0c0"/>
<rect x="374" y="542" width="1" height="1" fill="#c0c0c0"/>
<rect x="382" y="542" width="1" height="1" fill="#c0c0c0"/>
<rect x="390" y="542" width="1" height="1" fill="#c0c0c0"/>
<rect x="398" y="542" width="1" height="2" fill="#c0c0c0"/>
<rect x="406" y="542" width="1" height="7" fill="#c0c0c0"/>
<rect x="414" y="542" width="1" height="9" fill="#c0c0c0"/>
<rect x="422" y="542" width="1" height="12" fill="#c0c0c0"/>
<rect x="430" y="542" width="1" height="13" fill="#c0c0c0"/>
<rect x="438" y="542" width="1" height="18" fill="#c0c0c0"/>
<rect x="446" y="542" width="1" height="22" fill="#c0c0c0"/>
<rect x="454" y="542" width="1" height="26" fill="#c0c0c0"/>
<rect x="462" y="542" width="1" height="28" fill="#c0c0c0"/>
<rect x="470" y="542" width="1" height="30" fill="#c0c0c0"/>
<rect x="478" y="542" width="1" height="31" fill="#c0c0c0"/>
<rect x="486" y="542" width="1" height="32" fill="#c0c0c0"/>
<rect x="494" y="542" width="1" height="30" fill="#c0c0c0"/>
<rect x="502" y="542" width="1" height="31" fill="#c0c0c0"/>
<rect x="510" y="542" width="1" height="29" fill="#c0c0c0"/>
<rect x="518" y="542" width="1" height="28" fill="#c0c0c0"/>
<rect x="526" y="542" width="1" height="26" fill="#c0c0c0"/>
<rect x="534" y="542" width="1" height="26" fill="#c0c0c0"/>
<rect x="542" y="542" width="1" height="24" fill="#c0c0c0"/>
<rect x="550" y="542" width="1" height="22" fill="#c0c0c0"/>
<rect x="558" y="542" width="1" height="21" fill="#c0c0c0"/>
<rect x="566" y="542" width="1" height="19" fill="#c0c0c0"/>
<rect x="574" y="542" width="1" height="19" fill="#c0c0c0"/>
<rect x="582" y="542" width="1" height="19" fill="#c0c0c0"/>
<rect x="590" y="542" width="1" height="19" fill="#c0c0c0"/>
<rect x="598" y="542" width="1" height="21" fill="#c0c0c0"/>
<rect x="606" y="542" width="1" height="22" fill="#c0c0c0"/>
<rect x="614" y="542" width="1" height="24" fill="#c0c0c0"/>
<rect x="622" y="542" width="1" height="25" fill="#c0c0c0"/>
<rect x="630" y="542" width="1" height="28" fill="#c0c0c0"/>
<rect x="638" y="542" width="1" height="35" fill="#c0c0c0"/>
<rect x="646" y="542" width="1" height="44" fill="#c0c0c0"/>
<rect x="654" y="542" width="1" height="53" fill="#c0c0c0"/>
<rect x="662" y="542" width="1" height="60" fill="#c0c0c0"/>
<rect x="670" y="542" width="1" height="65" fill="#c0c0c0"/>
<rect x="678" y="542" width="1" height="74" fill="#c0c0c0"/>
<rect x="686" y="542" width="1" height="79" fill="#c0c0c0"/>
<rect x="694" y="542" width="1" height="77" fill="#c0c0c0"/>
<rect x="702" y="542" width="1" height="73" fill="#c0c0c0"/>
<rect x="710" y="542" width="1" height="69" fill="#c0c0c0"/>
<rect x="718" y="542" width="1" height="64" fill="#c0c0c0"/>
<rect x="726" y="542" width="1" height="59" fill="#c0c0c0"/>
<rect x="734" y="542" width="1" height="54" fill="#c0c0c0"/>
<rect x="742" y="542" width="1" height="48" fill="#c0c0c0"/>
<rect x="750" y="542" width="1" height="41" fill="#c0c0c0"/>
<rect x="758" y="542" width="1" height="38" fill="#c0c0c0"/>
<rect x="766" y="542" width="1" height="26" fill="#c0c0c0"/>
<rect x="774" y="542" width="1" height="17" fill="#c0c0c0"/>
<rect x="782" y="542" width="1" height="10" fill="#c0c0c0"/>
<rect x="790" y="542" width="1" height="5" fill="#c0c0c0"/>
<rect x="798" y="542" width="1" height="1" fill="#c0c0c0"/>
<rect x="806" y="540" width="1" height="3" fill="#c0c0c0"/>
<rect x="814" y="537" width="1" height="6" fill="#c0c0c0"/>
<rect x="822" y="537" width="1" height="6" fill="#c0c0c0"/>
<rect x="830" y="538" width="1" height="5" fill="#c0c0c0"/>
<rect x="838" y="540" width="1" height="3" fill="#c0c0c0"/>
<rect x="846" y="542" width="1" height="1" fill="#c0c0c0"/>
<rect x="854" y="542" width="1" height="1" fill="#c0c0c0"/>
<rect x="862" y="542" width="1" height="3" fill="#c0c0c0"/>
<rect x="870" y="542" width="1" height="5" fill="#c0c0c0"/>
<rect x="878" y="542" width="1" height="7" fill="#c0c0c0"/>
<rect x="886" y="542" width="1" height="7" fill="#c0c0c0"/>
<rect x="894" y="542" width="1" height="7" fill="#c0c0c0"/>
<rect x="902" y="542" width="1" height="6" fill="#c0c0c0"/>
<rect x="910" y="542" width="1" height="7" fill="#c0c0c0"/>
<rect x="918" y="542" width="1" height="5" fill="#c0c0c0"/>
<rect x="926" y="542" width="1" height="4" fill="#c0c0c0"/>
<rect x="934" y="542" width="1" height="3" fill="#c0c0c0"/>
<rect x="942" y="542" width="1" height="1" fill="#c0c0c0"/>
<rect x="950" y="542" width="1" height="1" fill="#c0c0c0"/>
<rect x="958" y="540" width="1" height="3" fill="#c0c0c0"/>
<rect x="966" y="534" width="1" height="9" fill="#c0c0c0"/>
<rect x="974" y="530" width="1" height="13" fill="#c0c0c0"/>
<rect x="982" y="527" width="1" height="16" fill="#c0c0c0"/>
<rect x="990" y="525" width="1" height="18" fill="#c0c0c0"/>
<rect x="998" y="523" width="1" height="20" fill="#c0c0c0"/>
<rect x="1006" y="521" width="1" height="22" fill="#c0c0c0"/>
<rect x="1014" y="519" width="1" height="24" fill="#c0c0c0"/>
<rect x="1022" y="520" width="1" height="23" fill="#c0c0c0"/>
<rect x="1030" y="519" width="1" height="24" fill="#c0c0c0"/>
<rect x="1038" y="521" width="1" height="22" fill="#c0c0c0"/>
<rect x="1046" y="521" width="1" height="22" fill="#c0c0c0"/>
<rect x="1054" y="521" width="1" height="22" fill="#c0c0c0"/>
<rect x="1062" y="523" width="1" height="20" fill="#c0c0c0"/>
<rect x="1070" y="524" width="1" height="19" fill="#c0c0c0"/>
<rect x="1078" y="526" width="1" height="17" fill="#c0c0c0"/>
<rect x="1086" y="527" width="1" height="16" fill="#c0c0c0"/>
<rect x="1094" y="527" width="1" height="16" fill="#c0c0c0"/>
<rect x="1102" y="524" width="1" height="19" fill="#c0c0c0"/>
<rect x="1110" y="522" width="1" height="21" fill="#c0c0c0"/>
<rect x="1118" y="520" width="1" height="23" fill="#c0c0c0"/>
<rect x="1126" y="517" width="1" height="26" fill="#c0c0c0"/>
<rect x="1134" y="515" width="1" height="28" fill="#c0c0c0"/>
<rect x="1142" y="511" width="1" height="32" fill="#c0c0c0"/>
<rect x="1150" y="506" width="1" height="37" fill="#c0c0c0"/>
<rect x="1158" y="501" width="1" height="42" fill="#c0c0c0"/>
<rect x="1166" y="500" width="1" height="43" fill="#c0c0c0"/>
<rect x="1174" y="500" width="1" height="43" fill="#c0c0c0"/>
<rect x="1182" y="500" width="1" height="43" fill="#c0c0c0"/>
<rect x="1190" y="505" width="1" height="38" fill="#c0c0c0"/>
<rect x="1198" y="507" width="1" height="36" fill="#c0c0c0"/>
<rect x="1206" y="510" width="1" height="33" fill="#c0c0c0"/>
<rect x="1214" y="512" width="1" height="31" fill="#c0c0c0"/>
<rect x="1222" y="515" width="1" height="28" fill="#c0c0c0"/>
<rect x="1230" y="513" width="1" height="30" fill="#c0c0c0"/>
<rect x="1238" y="513" width="1" height="30" fill="#c0c0c0"/>
<rect x="1246" y="517" width="1" height="26" fill="#c0c0c0"/>
<rect x="1254" y="521" width="1" height="22" fill="#c0c0c0"/>
<rect x="1262" y="522" width="1" height="21" fill="#c0c0c0"/>
<rect x="1270" y="523" width="1" height="20" fill="#c0c0c0"/>
<rect x="1278" y="525" width="1" height="18" fill="#c0c0c0"/>
<rect x="1286" y="525" width="1" height="18" fill="#c0c0c0"/>
<rect x="1294" y="525" width="1" height="18" fill="#c0c0c0"/>
<rect x="1302" y="524" width="1" height="19" fill="#c0c0c0"/>
<rect x="1310" y="525" width="1" height="18" fill="#c0c0c0"/>
<rect x="1318" y="525" width="1" height="18" fill="#c0c0c0"/>
<rect x="1326" y="527" width="1" height="16" fill="#c0c0c0"/>
<rect x="1334" y="529" width="1" height="14" fill="#c0c0c0"/>
<rect x="1342" y="530" width="1" height="13" fill="#c0c0c0"/>
<rect x="1350" y="532" width="1" height="11" fill="#c0c0c0"/>
<rect x="1358" y="533" width="1" height="10" fill="#c0c0c0"/>
<rect x="1366" y="534" width="1" height="9" fill="#c0c0c0"/>
<rect x="1374" y="535" width="1" height="8" fill="#c0c0c0"/>
<rect x="1382" y="535" width="1" height="8" fill="#c0c0c0"/>
<rect x="1390" y="536" width="1" height="7" fill="#c0c0c0"/>
<rect x="1398" y="537" width="1" height="6" fill="#c0c0c0"/>
<rect x="1406" y="539" width="1" height="4" fill="#c0c0c0"/>
<rect x="1414" y="540" width="1" height="3" fill="#c0c0c0"/>
<rect x="1422" y="542" width="1" height="1" fill="#c0c0c0"/>
<rect x="1430" y="542" width="1" height="1" fill="#c0c0c0"/>
<rect x="1438" y="542" width="1" height="1" fill="#c0c0c0"/>
<rect x="1446" y="542" width="1" height="1" fill="#c0c0c0"/>
<rect x="1454" y="542" width="1" height="1" fill="#c0c0c0"/>
<rect x="1462" y="542" width="1" height="2" fill="#c0c0c0"/>
<rect x="1470" y="542" width="1" height="1" fill="#c0c0c0"/>
<rect x="1478" y="542" width="1" height="1" fill="#c0c0c0"/>
<rect x="1486" y="542" width="1" height="1" fill="#c0c0c0"/>
<rect x="1494" y="539" width="1" height="4" fill="#c0c0c0"/>
<rect x="1502" y="536" width="1" height="7" fill="#c0c0c0"/>
<rect x="1510" y="534" width="1" height="9" fill="#c0c0c0"/>
<rect x="1518" y="530" width="1" height="13" fill="#c0c0c0"/>
<rect x="1526" y="529" width="1" height="14" fill="#c0c0c0"/>
<rect x="1534" y="528" width="1" height="15" fill="#c0c0c0"/>
<rect x="1542" y="525" width="1" height="18" fill="#c0c0c0"/>
<rect x="1550" y="523" width="1" height="20" fill="#c0c0c0"/>
<rect x="1558" y="520" width="1" height="23" fill="#c0c0c0"/>
<rect x="1566" y="519" width="1" height="24" fill="#c0c0c0"/>
<rect x="1574" y="516" width="1" height="27" fill="#c0c0c0"/>
<rect x="1582" y="514" width="1" height="29" fill="#c0c0c0"/>
<rect x="1590" y="510" width="1" height="33" fill="#c0c0c0"/>
<rect x="1598" y="508" width="1" height="35" fill="#c0c0c0"/>
<rect x="1606" y="506" width="1" height="37" fill="#c0c0c0"/>
<rect x="1614" y="507" width="1" height="36" fill="#c0c0c0"/>
<rect x="1622" y="507" width="1" height="36" fill="#c0c0c0"/>
<rect x="1630" y="507" width="1" height="36" fill="#c0c0c0"/>
<rect x="1638" y="510" width="1" height="33" fill="#c0c0c0"/>
<rect x="1646" y="511" width="1" height="32" fill="#c0c0c0"/>
<rect x="1654" y="513" width="1" height="30" fill="#c0c0c0"/>
<rect x="1662" y="515" width="1" height="28" fill="#c0c0c0"/>
<rect x="1670" y="516" width="1" height="27" fill="#c0c0c0"/>
<path d="M174 494.5h3M180 494.5h3M186 494.5h3M192 494.5h2M163 495.5h2M168 495.5h3M194 495.5h1M198 495.5h3M157 496.5h2M162 496.5h1M204 496.5h3M156 497.5h1M210 497.5h2M152 498.5h1M212 498.5h1M150 499.5h2M216 499.5h2M218 500.5h1M146 501.5h1M222 501.5h2M144 502.5h2M224 502.5h1M228 503.5h3M1206 503.5h3M140 504.5h1M234 504.5h2M1195 504.5h2M1200 504.5h3M1212 504.5h3M138 505.5h2M236 505.5h1M1189 505.5h2M1194 505.5h1M1218 505.5h3M1224 505.5h2M240 506.5h3M1188 506.5h1M1226 506.5h1M1230 506.5h3M134 507.5h1M246 507.5h2M1182 507.5h3M1236 507.5h3M132 508.5h2M248 508.5h1M1177 508.5h2M1242 508.5h3M1638 508.5h3M1644 508.5h3M1650 508.5h3M1656 508.5h3M1662 508.5h3M252 509.5h3M1176 509.5h1M1248 509.5h3M1632 509.5h3M1668 509.5h2M1171 510.5h2M1254 510.5h2M1626 510.5h3M127 511.5h2M258 511.5h3M1170 511.5h1M1256 511.5h1M1621 511.5h2M126 512.5h1M1165 512.5h2M1260 512.5h3M1620 512.5h1M264 513.5h3M1164 513.5h1M1266 513.5h2M1614 513.5h3M122 514.5h1M270 514.5h2M1160 514.5h1M1268 514.5h1M1609 514.5h2M120 515.5h2M272 515.5h1M1158 515.5h2M1272 515.5h2M1603 515.5h2M1608 515.5h1M276 516.5h3M1274 516.5h1M1597 516.5h2M1602 516.5h1M282 517.5h2M1152 517.5h3M1278 517.5h3M1596 517.5h1M115 518.5h2M284 518.5h1M288 518.5h2M1284 518.5h3M1592 518.5h1M114 519.5h1M290 519.5h1M294 519.5h2M1146 519.5h3M1290 519.5h3M1296 519.5h2M1590 519.5h2M296 520.5h1M1051 520.5h2M1056 520.5h3M1062 520.5h3M1068 520.5h3M1140 520.5h3M1298 520.5h1M1302 520.5h2M300 521.5h3M1044 521.5h3M1050 521.5h1M1074 521.5h3M1080 521.5h3M1086 521.5h3M1134 521.5h3M1304 521.5h1M1584 521.5h3M110 522.5h1M306 522.5h3M312 522.5h2M1038 522.5h3M1092 522.5h3M1116 522.5h3M1122 522.5h3M1128 522.5h3M1308 522.5h3M109 523.5h1M314 523.5h1M318 523.5h3M1032 523.5h3M1098 523.5h3M1104 523.5h3M1110 523.5h3M1314 523.5h3M1320 523.5h3M1326 523.5h3M1578 523.5h3M108 524.5h1M324 524.5h3M1026 524.5h3M1332 524.5h3M1573 524.5h2M330 525.5h3M1021 525.5h2M1338 525.5h3M1344 525.5h2M1572 525.5h1M336 526.5h3M1020 526.5h1M1346 526.5h1M1350 526.5h3M1566 526.5h3M103 527.5h2M342 527.5h2M1016 527.5h1M1356 527.5h3M1362 527.5h3M1368 527.5h2M102 528.5h1M344 528.5h1M1014 528.5h2M1370 528.5h1M1374 528.5h2M1560 528.5h3M348 529.5h3M1376 529.5h1M1008 530.5h3M1380 530.5h3M1554 530.5h3M98 531.5h1M354 531.5h3M1386 531.5h3M1392 531.5h2M1549 531.5h2M97 532.5h1M1003 532.5h2M1394 532.5h1M1398 532.5h3M1548 532.5h1M96 533.5h1M360 533.5h3M1002 533.5h1M1404 533.5h3M1542 533.5h3M366 534.5h2M997 534.5h2M1410 534.5h2M1537 534.5h2M92 535.5h1M368 535.5h1M996 535.5h1M1412 535.5h1M1416 535.5h2M1531 535.5h2M1536 535.5h1M91 536.5h1M372 536.5h3M990 536.5h3M1418 536.5h1M1422 536.5h3M1525 536.5h2M1530 536.5h1M90 537.5h1M378 537.5h3M384 537.5h2M1428 537.5h3M1524 537.5h1M386 538.5h1M390 538.5h2M984 538.5h3M1434 538.5h3M1440 538.5h2M1518 538.5h3M86 539.5h1M392 539.5h1M1442 539.5h1M1446 539.5h3M1513 539.5h2M84 540.5h2M396 540.5h3M852 540.5h3M858 540.5h3M864 540.5h3M870 540.5h2M978 540.5h3M1452 540.5h3M1507 540.5h2M1512 540.5h1M402 541.5h2M846 541.5h3M872 541.5h1M973 541.5h2M1458 541.5h3M1464 541.5h2M1494 541.5h3M1500 541.5h3M1506 541.5h1M80 542.5h1M404 542.5h1M841 542.5h2M876 542.5h3M972 542.5h1M1466 542.5h1M1470 542.5h3M1476 542.5h3M1482 542.5h3M1488 542.5h3M78 543.5h2M408 543.5h3M840 543.5h1M882 543.5h3M888 543.5h3M894 543.5h2M968 543.5h1M414 544.5h3M835 544.5h2M896 544.5h1M966 544.5h2M74 545.5h1M420 545.5h3M834 545.5h1M900 545.5h3M960 545.5h3M72 546.5h2M426 546.5h2M830 546.5h1M906 546.5h2M954 546.5h3M428 547.5h1M828 547.5h2M908 547.5h1M912 547.5h2M948 547.5h3M67 548.5h2M432 548.5h3M914 548.5h1M918 548.5h3M924 548.5h3M930 548.5h3M936 548.5h3M942 548.5h3M66 549.5h1M438 549.5h2M824 549.5h1M61 550.5h2M440 550.5h1M822 550.5h2M6 551.5h3M60 551.5h1M444 551.5h1M12 552.5h3M54 552.5h3M445 552.5h2M18 553.5h3M24 553.5h2M43 553.5h2M48 553.5h3M818 553.5h1M26 554.5h1M30 554.5h3M36 554.5h3M42 554.5h1M450 554.5h3M817 554.5h1M816 555.5h1M456 556.5h2M458 557.5h1M462 558.5h2M811 558.5h2M464 559.5h1M810 559.5h1M468 560.5h1M469 561.5h2M474 562.5h2M806 562.5h1M476 563.5h1M595 563.5h2M600 563.5h3M606 563.5h3M612 563.5h3M618 563.5h3M624 563.5h2M805 563.5h1M480 564.5h3M588 564.5h3M594 564.5h1M626 564.5h1M630 564.5h2M804 564.5h1M486 565.5h2M582 565.5h3M632 565.5h1M488 566.5h1M571 566.5h2M576 566.5h3M636 566.5h3M492 567.5h1M564 567.5h3M570 567.5h1M800 567.5h1M493 568.5h2M558 568.5h3M642 568.5h3M799 568.5h1M498 569.5h2M553 569.5h2M798 569.5h1M500 570.5h1M504 570.5h2M547 570.5h2M552 570.5h1M648 570.5h2M506 571.5h1M510 571.5h3M540 571.5h3M546 571.5h1M650 571.5h1M516 572.5h3M522 572.5h3M528 572.5h3M534 572.5h3M654 572.5h1M655 573.5h2M793 573.5h2M792 574.5h1M660 576.5h2M662 577.5h1M787 578.5h2M786 579.5h1M666 580.5h2M668 581.5h1M782 582.5h1M781 583.5h1M672 584.5h2M780 584.5h1M674 585.5h1M775 587.5h2M678 588.5h1M774 588.5h1M679 589.5h1M680 590.5h1M770 591.5h1M769 592.5h1M684 593.5h2M768 593.5h1M686 594.5h1M763 596.5h2M690 597.5h2M762 597.5h1M692 598.5h1M696 600.5h1M758 600.5h1M697 601.5h1M756 601.5h2M698 602.5h1M702 604.5h1M751 604.5h2M703 605.5h2M750 605.5h1M708 607.5h1M744 607.5h3M709 608.5h2M714 609.5h3M720 609.5h2M738 609.5h3M722 610.5h1M726 610.5h3M732 610.5h3" fill="none" stroke="#ff0000" stroke-width="1"/>
<line x1="6" y1="671.5" x2="1690" y2="671.5" stroke="#c0c0c0" stroke-width="1" stroke-dasharray="3 3"/>
<line x1="6" y1="723.5" x2="1690" y2="723.5" stroke="#c0c0c0" stroke-width="1" stroke-dasharray="3 3"/>
<path d="M1157 657.5h2M1155 658.5h2M1159 658.5h1M1152 659.5h3M1159 659.5h1M1590 659.5h1M1150 660.5h2M1160 660.5h1M1588 660.5h2M1591 660.5h2M1148 661.5h2M1160 661.5h1M1586 661.5h2M1593 661.5h2M115 662.5h4M1146 662.5h2M1161 662.5h1M1584 662.5h2M1595 662.5h2M1603 662.5h4M110 663.5h5M118 663.5h1M1144 663.5h2M1161 663.5h1M1582 663.5h2M1597 663.5h6M1607 663.5h1M109 664.5h1M119 664.5h1M1142 664.5h2M1162 664.5h1M1580 664.5h2M1607 664.5h1M107 665.5h2M119 665.5h1M1140 665.5h2M1163 665.5h1M1578 665.5h2M1608 665.5h1M94 666.5h2M106 666.5h1M119 666.5h1M1139 666.5h1M1163 666.5h1M1576 666.5h2M1609 666.5h1M92 667.5h2M96 667.5h2M105 667.5h1M120 667.5h1M1137 667.5h2M1164 667.5h1M1573 667.5h3M1610 667.5h1M91 668.5h1M98 668.5h3M103 668.5h2M120 668.5h1M1135 668.5h2M1164 668.5h1M1571 668.5h2M1610 668.5h1M54 669.5h1M89 669.5h2M101 669.5h2M121 669.5h1M1131 669.5h4M1165 669.5h1M1558 669.5h4M1568 669.5h3M1611 669.5h1M54 670.5h2M87 670.5h2M121 670.5h1M1126 670.5h5M1165 670.5h1M1171 670.5h5M1556 670.5h2M1562 670.5h6M1612 670.5h1M53 671.5h1M56 671.5h2M86 671.5h1M121 671.5h1M966 671.5h1M1124 671.5h2M1166 671.5h5M1176 671.5h2M1554 671.5h2M1613 671.5h1M1621 671.5h3M53 672.5h1M58 672.5h1M85 672.5h1M122 672.5h1M966 672.5h2M1122 672.5h2M1178 672.5h3M1552 672.5h2M1613 672.5h1M1617 672.5h4M1624 672.5h4M52 673.5h1M59 673.5h1M85 673.5h1M122 673.5h1M965 673.5h1M968 673.5h1M1120 673.5h2M1181 673.5h2M1518 673.5h1M1547 673.5h5M1614 673.5h3M1628 673.5h3M52 674.5h1M60 674.5h2M84 674.5h1M122 674.5h1M965 674.5h1M969 674.5h1M1117 674.5h3M1182 674.5h1M1516 674.5h2M1519 674.5h1M1542 674.5h5M1631 674.5h1M51 675.5h1M62 675.5h4M84 675.5h1M123 675.5h1M964 675.5h1M970 675.5h1M1011 675.5h4M1113 675.5h4M1183 675.5h1M1515 675.5h1M1520 675.5h1M1540 675.5h2M1632 675.5h1M51 676.5h1M66 676.5h5M83 676.5h1M123 676.5h1M964 676.5h1M970 676.5h1M982 676.5h1M1003 676.5h8M1015 676.5h1M1107 676.5h6M1183 676.5h1M1230 676.5h1M1513 676.5h2M1521 676.5h1M1539 676.5h1M1633 676.5h1M50 677.5h1M71 677.5h1M82 677.5h1M123 677.5h1M963 677.5h1M971 677.5h1M980 677.5h2M983 677.5h2M997 677.5h6M1016 677.5h1M1102 677.5h5M1184 677.5h1M1229 677.5h1M1231 677.5h1M1511 677.5h2M1522 677.5h1M1537 677.5h2M1634 677.5h1M50 678.5h1M72 678.5h1M82 678.5h1M124 678.5h1M139 678.5h5M181 678.5h3M963 678.5h1M972 678.5h1M978 678.5h2M985 678.5h2M995 678.5h2M1017 678.5h1M1101 678.5h1M1184 678.5h1M1229 678.5h1M1232 678.5h1M1509 678.5h2M1523 678.5h1M1535 678.5h2M1634 678.5h1M50 679.5h1M73 679.5h1M81 679.5h1M124 679.5h1M134 679.5h5M144 679.5h2M177 679.5h4M184 679.5h4M962 679.5h1M973 679.5h1M976 679.5h2M987 679.5h2M992 679.5h3M1018 679.5h1M1100 679.5h1M1185 679.5h1M1228 679.5h1M1233 679.5h1M1505 679.5h4M1524 679.5h1M1533 679.5h2M1635 679.5h1M1645 679.5h5M49 680.5h1M74 680.5h1M80 680.5h1M125 680.5h1M132 680.5h2M146 680.5h3M171 680.5h6M188 680.5h11M962 680.5h1M974 680.5h2M989 680.5h3M1018 680.5h1M1030 680.5h1M1100 680.5h1M1185 680.5h1M1228 680.5h1M1234 680.5h1M1501 680.5h4M1525 680.5h1M1529 680.5h4M1636 680.5h1M1643 680.5h2M1650 680.5h16M49 681.5h1M75 681.5h1M80 681.5h1M125 681.5h1M131 681.5h1M149 681.5h5M163 681.5h8M199 681.5h2M286 681.5h1M961 681.5h1M1019 681.5h1M1028 681.5h2M1031 681.5h1M1099 681.5h1M1186 681.5h1M1227 681.5h1M1235 681.5h1M1497 681.5h4M1526 681.5h3M1637 681.5h1M1640 681.5h3M1666 681.5h4M48 682.5h1M76 682.5h1M79 682.5h1M125 682.5h1M129 682.5h2M154 682.5h9M201 682.5h1M262 682.5h10M284 682.5h2M287 682.5h2M766 682.5h1M961 682.5h1M1020 682.5h1M1026 682.5h2M1032 682.5h1M1098 682.5h1M1186 682.5h1M1227 682.5h1M1236 682.5h1M1494 682.5h3M1638 682.5h2M48 683.5h1M77 683.5h1M79 683.5h1M126 683.5h3M202 683.5h2M261 683.5h1M272 683.5h2M282 683.5h2M289 683.5h1M766 683.5h2M960 683.5h1M1021 683.5h1M1024 683.5h2M1033 683.5h1M1097 683.5h1M1187 683.5h1M1226 683.5h1M1237 683.5h1M1493 683.5h1M47 684.5h1M78 684.5h1M126 684.5h1M204 684.5h2M260 684.5h1M274 684.5h3M280 684.5h2M290 684.5h2M765 684.5h1M768 684.5h2M960 684.5h1M1022 684.5h2M1034 684.5h1M1046 684.5h9M1096 684.5h1M1187 684.5h1M1225 684.5h1M1238 684.5h1M1492 684.5h1M47 685.5h1M206 685.5h1M260 685.5h1M277 685.5h3M292 685.5h2M765 685.5h1M770 685.5h1M959 685.5h1M1035 685.5h1M1044 685.5h2M1055 685.5h1M1096 685.5h1M1188 685.5h1M1198 685.5h12M1225 685.5h1M1239 685.5h1M1299 685.5h5M1491 685.5h1M46 686.5h1M207 686.5h2M259 686.5h1M294 686.5h9M765 686.5h1M771 686.5h1M959 686.5h1M1036 686.5h1M1042 686.5h2M1056 686.5h1M1095 686.5h1M1188 686.5h1M1196 686.5h2M1210 686.5h5M1224 686.5h1M1239 686.5h1M1293 686.5h6M1304 686.5h2M1490 686.5h1M45 687.5h2M209 687.5h2M258 687.5h1M303 687.5h1M764 687.5h1M772 687.5h2M779 687.5h5M957 687.5h2M1037 687.5h1M1040 687.5h2M1057 687.5h1M1070 687.5h1M1093 687.5h2M1189 687.5h1M1195 687.5h1M1215 687.5h2M1224 687.5h1M1240 687.5h1M1291 687.5h2M1306 687.5h3M1490 687.5h1M43 688.5h2M211 688.5h2M257 688.5h1M303 688.5h1M764 688.5h1M774 688.5h5M784 688.5h2M797 688.5h13M953 688.5h4M1038 688.5h2M1058 688.5h1M1068 688.5h2M1071 688.5h2M1089 688.5h4M1189 688.5h1M1193 688.5h2M1217 688.5h2M1223 688.5h1M1241 688.5h1M1288 688.5h3M1309 688.5h10M1382 688.5h1M1489 688.5h1M40 689.5h3M213 689.5h3M229 689.5h3M256 689.5h1M304 689.5h1M764 689.5h1M786 689.5h3M793 689.5h4M810 689.5h5M942 689.5h11M1059 689.5h1M1067 689.5h1M1073 689.5h1M1085 689.5h4M1190 689.5h3M1219 689.5h2M1223 689.5h1M1241 689.5h1M1269 689.5h2M1286 689.5h2M1319 689.5h2M1381 689.5h1M1383 689.5h1M1488 689.5h1M38 690.5h2M216 690.5h4M225 690.5h4M232 690.5h4M256 690.5h1M304 690.5h1M764 690.5h1M789 690.5h4M815 690.5h2M941 690.5h1M1060 690.5h1M1065 690.5h2M1074 690.5h2M1083 690.5h2M1190 690.5h1M1221 690.5h2M1242 690.5h1M1265 690.5h4M1271 690.5h2M1284 690.5h2M1321 690.5h2M1380 690.5h1M1384 690.5h1M1487 690.5h1M37 691.5h1M220 691.5h5M236 691.5h4M255 691.5h1M305 691.5h1M763 691.5h1M817 691.5h1M940 691.5h1M1061 691.5h1M1063 691.5h2M1076 691.5h2M1080 691.5h3M1243 691.5h1M1262 691.5h3M1273 691.5h2M1282 691.5h2M1323 691.5h2M1379 691.5h1M1385 691.5h1M1485 691.5h2M36 692.5h1M240 692.5h2M253 692.5h2M305 692.5h1M763 692.5h1M818 692.5h2M939 692.5h1M1062 692.5h1M1078 692.5h2M1243 692.5h1M1260 692.5h2M1275 692.5h2M1280 692.5h2M1325 692.5h3M1377 692.5h2M1386 692.5h2M1481 692.5h4M36 693.5h1M242 693.5h3M249 693.5h4M306 693.5h1M334 693.5h1M763 693.5h1M820 693.5h2M937 693.5h2M1244 693.5h1M1258 693.5h2M1277 693.5h3M1328 693.5h4M1349 693.5h10M1376 693.5h1M1388 693.5h1M1430 693.5h1M1478 693.5h3M35 694.5h1M245 694.5h4M307 694.5h1M333 694.5h1M335 694.5h1M762 694.5h1M822 694.5h1M936 694.5h1M1245 694.5h1M1256 694.5h2M1332 694.5h6M1345 694.5h4M1359 694.5h2M1375 694.5h1M1389 694.5h1M1429 694.5h1M1431 694.5h1M1476 694.5h2M34 695.5h1M307 695.5h1M332 695.5h1M335 695.5h1M762 695.5h1M823 695.5h2M918 695.5h2M935 695.5h1M1245 695.5h1M1251 695.5h5M1338 695.5h7M1361 695.5h1M1373 695.5h2M1390 695.5h4M1429 695.5h1M1432 695.5h2M1474 695.5h2M33 696.5h1M308 696.5h1M331 696.5h1M336 696.5h1M382 696.5h1M762 696.5h1M825 696.5h1M916 696.5h2M920 696.5h2M933 696.5h2M1246 696.5h5M1362 696.5h2M1371 696.5h2M1394 696.5h5M1428 696.5h1M1434 696.5h1M1472 696.5h2M32 697.5h1M308 697.5h1M329 697.5h2M337 697.5h1M380 697.5h2M383 697.5h2M761 697.5h1M826 697.5h2M914 697.5h2M922 697.5h3M929 697.5h4M1364 697.5h2M1368 697.5h3M1399 697.5h1M1427 697.5h1M1435 697.5h1M1470 697.5h2M32 698.5h1M309 698.5h1M328 698.5h1M337 698.5h1M358 698.5h10M378 698.5h2M385 698.5h1M761 698.5h1M828 698.5h2M912 698.5h2M925 698.5h4M1366 698.5h2M1400 698.5h2M1427 698.5h1M1436 698.5h2M1468 698.5h2M31 699.5h1M309 699.5h1M327 699.5h1M338 699.5h1M357 699.5h1M368 699.5h4M376 699.5h2M386 699.5h2M761 699.5h1M830 699.5h4M910 699.5h2M1402 699.5h1M1426 699.5h1M1438 699.5h2M1453 699.5h3M1467 699.5h1M30 700.5h1M310 700.5h2M325 700.5h2M339 700.5h1M356 700.5h1M372 700.5h4M388 700.5h2M760 700.5h1M834 700.5h6M908 700.5h2M1403 700.5h1M1425 700.5h1M1440 700.5h2M1451 700.5h2M1456 700.5h2M1465 700.5h2M29 701.5h1M312 701.5h2M323 701.5h2M339 701.5h1M355 701.5h1M390 701.5h2M750 701.5h1M760 701.5h1M840 701.5h2M906 701.5h2M1404 701.5h2M1411 701.5h4M1425 701.5h1M1442 701.5h3M1448 701.5h3M1458 701.5h3M1463 701.5h2M28 702.5h1M314 702.5h3M320 702.5h3M340 702.5h1M354 702.5h1M392 702.5h4M748 702.5h2M751 702.5h1M760 702.5h1M842 702.5h3M851 702.5h7M891 702.5h7M904 702.5h2M1406 702.5h5M1415 702.5h2M1424 702.5h1M1445 702.5h3M1461 702.5h2M27 703.5h1M317 703.5h3M341 703.5h1M353 703.5h1M396 703.5h3M746 703.5h2M752 703.5h1M760 703.5h1M845 703.5h6M858 703.5h5M885 703.5h6M898 703.5h6M1417 703.5h2M1423 703.5h1M25 704.5h2M341 704.5h1M352 704.5h1M399 704.5h1M744 704.5h2M753 704.5h1M759 704.5h1M863 704.5h2M883 704.5h2M1419 704.5h2M1423 704.5h1M24 705.5h1M342 705.5h4M351 705.5h1M399 705.5h1M741 705.5h3M754 705.5h2M759 705.5h1M865 705.5h2M880 705.5h3M1421 705.5h2M23 706.5h1M346 706.5h5M400 706.5h1M547 706.5h7M563 706.5h4M739 706.5h2M756 706.5h1M759 706.5h1M867 706.5h2M875 706.5h5M22 707.5h1M401 707.5h1M542 707.5h5M554 707.5h9M567 707.5h2M736 707.5h3M757 707.5h2M869 707.5h6M21 708.5h1M401 708.5h1M540 708.5h2M569 708.5h1M734 708.5h2M758 708.5h1M19 709.5h2M402 709.5h1M510 709.5h18M538 709.5h2M570 709.5h2M732 709.5h2M18 710.5h1M403 710.5h1M494 710.5h1M509 710.5h1M528 710.5h4M536 710.5h2M572 710.5h2M730 710.5h2M17 711.5h1M403 711.5h1M493 711.5h1M495 711.5h1M508 711.5h1M532 711.5h4M574 711.5h4M728 711.5h2M15 712.5h2M404 712.5h1M493 712.5h1M496 712.5h1M507 712.5h1M578 712.5h6M726 712.5h2M11 713.5h4M405 713.5h1M413 713.5h5M492 713.5h1M497 713.5h1M506 713.5h1M584 713.5h2M724 713.5h2M6 714.5h5M405 714.5h1M409 714.5h4M418 714.5h13M492 714.5h1M498 714.5h2M505 714.5h1M586 714.5h3M722 714.5h2M406 715.5h3M431 715.5h1M491 715.5h1M500 715.5h1M504 715.5h1M589 715.5h2M720 715.5h2M432 716.5h1M491 716.5h1M501 716.5h1M503 716.5h1M591 716.5h1M702 716.5h18M433 717.5h1M490 717.5h1M502 717.5h1M592 717.5h1M701 717.5h1M434 718.5h1M489 718.5h1M593 718.5h1M606 718.5h2M700 718.5h1M435 719.5h1M489 719.5h1M594 719.5h1M605 719.5h1M608 719.5h2M699 719.5h1M436 720.5h1M478 720.5h1M488 720.5h1M594 720.5h1M603 720.5h2M610 720.5h3M697 720.5h2M437 721.5h1M476 721.5h2M479 721.5h2M488 721.5h1M595 721.5h1M602 721.5h1M613 721.5h5M696 721.5h1M438 722.5h2M474 722.5h2M481 722.5h2M487 722.5h1M596 722.5h1M601 722.5h1M618 722.5h5M695 722.5h1M440 723.5h4M462 723.5h4M472 723.5h2M483 723.5h2M487 723.5h1M597 723.5h1M599 723.5h2M623 723.5h2M694 723.5h1M444 724.5h3M460 724.5h2M466 724.5h6M485 724.5h2M598 724.5h1M625 724.5h2M694 724.5h1M447 725.5h2M459 725.5h1M627 725.5h2M693 725.5h1M449 726.5h2M457 726.5h2M629 726.5h2M693 726.5h1M451 727.5h2M455 727.5h2M631 727.5h1M692 727.5h1M453 728.5h2M631 728.5h1M692 728.5h1M632 729.5h1M692 729.5h1M633 730.5h1M691 730.5h1M634 731.5h1M691 731.5h1M634 732.5h1M690 732.5h1M635 733.5h1M690 733.5h1M636 734.5h1M690 734.5h1M637 735.5h1M689 735.5h1M637 736.5h1M689 736.5h1M638 737.5h1M688 737.5h1M639 738.5h2M688 738.5h1M641 739.5h1M688 739.5h1M642 740.5h2M687 740.5h1M644 741.5h2M687 741.5h1M646 742.5h2M686 742.5h1M648 743.5h2M686 743.5h1M650 744.5h3M685 744.5h1M653 745.5h18M683 745.5h2M671 746.5h2M682 746.5h1M673 747.5h2M681 747.5h1M675 748.5h2M679 748.5h2M677 749.5h2" fill="none" stroke="#1e90ff" stroke-width="1"/>
</g>
<g shape-rendering="crispEdges">
<rect x="1691" y="49" width="2" height="1" fill="#000"/>
<rect x="1691" y="115" width="2" height="1" fill="#000"/>
<rect x="1691" y="148" width="2" height="1" fill="#000"/>
<rect x="1691" y="181" width="2" height="1" fill="#000"/>
<rect x="1691" y="214" width="2" height="1" fill="#000"/>
<rect x="1691" y="247" width="2" height="1" fill="#000"/>
<rect x="1691" y="280" width="2" height="1" fill="#000"/>
<rect x="1691" y="313" width="2" height="1" fill="#000"/>
<rect x="1691" y="346" width="2" height="1" fill="#000"/>
<rect x="1691" y="379" width="2" height="1" fill="#000"/>
<rect x="1691" y="412" width="2" height="1" fill="#000"/>
<rect x="1691" y="445" width="2" height="1" fill="#000"/>
<rect x="1691" y="478" width="2" height="1" fill="#000"/>
<rect x="1691" y="485" width="1" height="1" fill="#000"/>
<rect x="1691" y="542" width="1" height="1" fill="#000"/>
<rect x="1691" y="627" width="1" height="1" fill="#000"/>
<rect x="1691" y="632" width="1" height="1" fill="#000"/>
<rect x="1691" y="762" width="1" height="1" fill="#000"/>
</g>
<defs><clipPath id="ca"><rect x="1691" y="35" width="35" height="446"/></clipPath></defs><g clip-path="url(#ca)">
<text x="1696.3" y="52.6" textLength="27.4" lengthAdjust="spacingAndGlyphs">36.690</text>
<text x="1696.3" y="118.6" textLength="27.4" lengthAdjust="spacingAndGlyphs">33.450</text>
<text x="1696.3" y="151.6" textLength="27.4" lengthAdjust="spacingAndGlyphs">31.830</text>
<text x="1696.3" y="184.6" textLength="27.4" lengthAdjust="spacingAndGlyphs">30.210</text>
<text x="1696.3" y="217.6" textLength="27.4" lengthAdjust="spacingAndGlyphs">28.590</text>
<text x="1696.3" y="250.6" textLength="27.4" lengthAdjust="spacingAndGlyphs">26.970</text>
<text x="1696.3" y="283.6" textLength="27.4" lengthAdjust="spacingAndGlyphs">25.305</text>
<text x="1696.3" y="316.6" textLength="27.4" lengthAdjust="spacingAndGlyphs">23.685</text>
<text x="1696.3" y="349.6" textLength="27.4" lengthAdjust="spacingAndGlyphs">22.065</text>
<text x="1696.3" y="382.6" textLength="27.4" lengthAdjust="spacingAndGlyphs">20.445</text>
<text x="1696.3" y="415.6" textLength="27.4" lengthAdjust="spacingAndGlyphs">18.825</text>
<text x="1696.3" y="448.6" textLength="27.4" lengthAdjust="spacingAndGlyphs">17.205</text>
<text x="1696.3" y="481.6" textLength="27.4" lengthAdjust="spacingAndGlyphs">15.585</text>
</g>
<g shape-rendering="crispEdges">
<rect x="1692" y="78" width="34" height="11" fill="#32cd32"/>
<rect x="1692" y="89" width="34" height="10" fill="#000"/>
<rect x="1692" y="140" width="34" height="10" fill="#4169e1"/>
<rect x="1692" y="200" width="34" height="10" fill="#4169e1"/>
<rect x="1692" y="283" width="34" height="10" fill="#4169e1"/>
</g>
<text class="w" x="1696.3" y="87" textLength="27.4" lengthAdjust="spacingAndGlyphs">35.000</text>
<text class="w" x="1696.3" y="97" textLength="27.4" lengthAdjust="spacingAndGlyphs">34.520</text>
<text class="w" x="1696.3" y="148.4" textLength="27.4" lengthAdjust="spacingAndGlyphs">32.000</text>
<text class="w" x="1696.3" y="208.4" textLength="27.4" lengthAdjust="spacingAndGlyphs">29.000</text>
<text class="w" x="1696.3" y="291.4" textLength="27.4" lengthAdjust="spacingAndGlyphs">24.936</text>
<text x="1693.8" y="494">2.084</text>
<text x="1693.8" y="545.4">0.00</text>
<text x="1693.8" y="624.6">-3.0957</text>
<text x="1693.8" y="641">100</text>
<text x="1693.8" y="674.8">70</text>
<text x="1693.8" y="726.7">30</text>
<text x="1693.8" y="759.8">0</text>
<g shape-rendering="crispEdges">
<rect x="6" y="764" width="1" height="3" fill="#000"/>
<rect x="70" y="764" width="1" height="3" fill="#000"/>
<rect x="134" y="764" width="1" height="3" fill="#000"/>
<rect x="198" y="764" width="1" height="3" fill="#000"/>
<rect x="262" y="764" width="1" height="3" fill="#000"/>
<rect x="326" y="764" width="1" height="3" fill="#000"/>
<rect x="390" y="764" width="1" height="3" fill="#000"/>
<rect x="454" y="764" width="1" height="3" fill="#000"/>
<rect x="518" y="764" width="1" height="3" fill="#000"/>
<rect x="582" y="764" width="1" height="3" fill="#000"/>
<rect x="646" y="764" width="1" height="3" fill="#000"/>
<rect x="710" y="764" width="1" height="3" fill="#000"/>
<rect x="774" y="764" width="1" height="3" fill="#000"/>
<rect x="838" y="764" width="1" height="3" fill="#000"/>
<rect x="902" y="764" width="1" height="3" fill="#000"/>
<rect x="966" y="764" width="1" height="3" fill="#000"/>
<rect x="1030" y="764" width="1" height="3" fill="#000"/>
<rect x="1094" y="764" width="1" height="3" fill="#000"/>
<rect x="1158" y="764" width="1" height="3" fill="#000"/>
<rect x="1222" y="764" width="1" height="3" fill="#000"/>
<rect x="1286" y="764" width="1" height="3" fill="#000"/>
<rect x="1350" y="764" width="1" height="3" fill="#000"/>
<rect x="1414" y="764" width="1" height="3" fill="#000"/>
<rect x="1478" y="764" width="1" height="3" fill="#000"/>
<rect x="1542" y="764" width="1" height="3" fill="#000"/>
<rect x="1606" y="764" width="1" height="3" fill="#000"/>
<rect x="1670" y="764" width="1" height="3" fill="#000"/>
</g>
<text x="5" y="775.8">1 Apr 2020</text>
<text x="69" y="775.8">2 Apr 20:00</text>
<text x="133" y="775.8">6 Apr 00:00</text>
<text x="197" y="775.8">7 Apr 08:00</text>
<text x="261" y="775.8">8 Apr 16:00</text>
<text x="325" y="775.8">12 Apr 23:00</text>
<text x="389" y="775.8">14 Apr 04:00</text>
<text x="453" y="775.8">15 Apr 12:00</text>
<text x="517" y="775.8">16 Apr 20:00</text>
<text x="581" y="775.8">20 Apr 00:00</text>
<text x="645" y="775.8">21 Apr 08:00</text>
<text x="709" y="775.8">22 Apr 16:00</text>
<text x="773" y="775.8">24 Apr 04:00</text>
<text x="837" y="775.8">27 Apr 08:00</text>
<text x="901" y="775.8">28 Apr 16:00</text>
<text x="965" y="775.8">30 Apr 00:00</text>
<text x="1029" y="775.8">1 May 08:00</text>
<text x="1093" y="775.8">4 May 12:00</text>
<text x="1157" y="775.8">5 May 20:00</text>
<text x="1221" y="775.8">7 May 04:00</text>
<text x="1285" y="775.8">8 May 12:00</text>
<text x="1349" y="775.8">11 May 16:00</text>
<text x="1413" y="775.8">13 May 00:00</text>
<text x="1477" y="775.8">14 May 08:00</text>
<text x="1541" y="775.8">15 May 16:00</text>
<text x="1605" y="775.8">18 May 20:00</text>
<text x="1669" y="775.8">20 May 00:00</text>
</svg></body></html>
